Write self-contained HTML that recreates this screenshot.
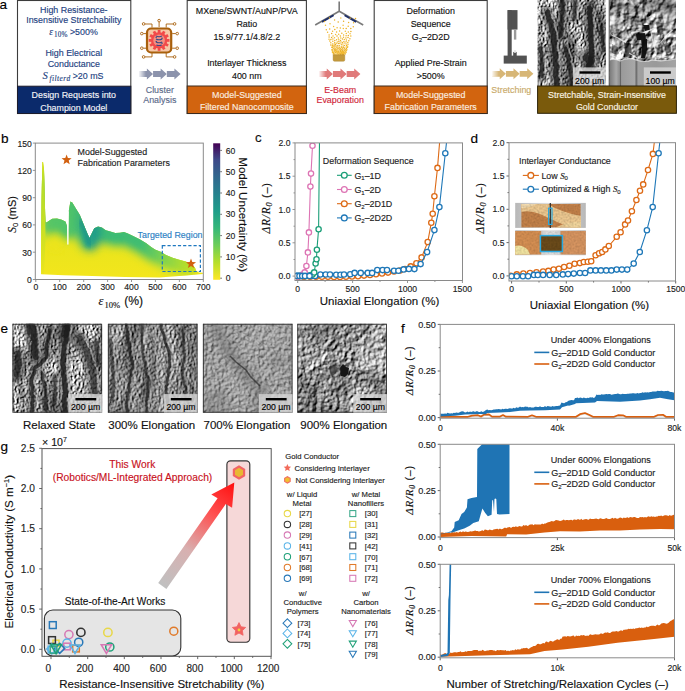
<!DOCTYPE html>
<html><head><meta charset="utf-8"><style>
html,body{margin:0;padding:0;background:#fff;}
body{width:685px;height:691px;overflow:hidden;}
svg{display:block;font-family:"Liberation Sans", sans-serif;}
</style></head><body>
<svg width="685" height="691" viewBox="0 0 685 691">
<defs>
<linearGradient id="vir" x1="0" y1="1" x2="0" y2="0">
 <stop offset="0" stop-color="#fde725"/><stop offset="0.13" stop-color="#b5de2b"/>
 <stop offset="0.25" stop-color="#6ece58"/><stop offset="0.38" stop-color="#35b779"/>
 <stop offset="0.5" stop-color="#1f9e89"/><stop offset="0.63" stop-color="#26828e"/>
 <stop offset="0.75" stop-color="#31688e"/><stop offset="0.88" stop-color="#3e4989"/>
 <stop offset="1" stop-color="#440154"/></linearGradient>
<linearGradient id="bfill" gradientUnits="userSpaceOnUse" x1="0" y1="280" x2="0" y2="200">
 <stop offset="0" stop-color="#f4e41c"/><stop offset="0.22" stop-color="#ece31b"/>
 <stop offset="0.42" stop-color="#c9df22"/><stop offset="0.58" stop-color="#82d24c"/>
 <stop offset="0.75" stop-color="#4cc16b"/><stop offset="1" stop-color="#27a882"/></linearGradient>
<linearGradient id="bteal" gradientUnits="userSpaceOnUse" x1="0" y1="250" x2="0" y2="200">
 <stop offset="0" stop-color="#2a9c86" stop-opacity="0"/><stop offset="0.35" stop-color="#22978a" stop-opacity="0.85"/>
 <stop offset="1" stop-color="#35b37a" stop-opacity="0.6"/></linearGradient>
<linearGradient id="bspike" gradientUnits="userSpaceOnUse" x1="0" y1="275" x2="0" y2="160">
 <stop offset="0" stop-color="#f0e41c"/><stop offset="0.5" stop-color="#c5df24"/><stop offset="1" stop-color="#dfe21e"/></linearGradient>
<linearGradient id="arrG" gradientUnits="userSpaceOnUse" x1="162" y1="585" x2="234" y2="483">
 <stop offset="0" stop-color="#c0c0c0"/><stop offset="0.35" stop-color="#d8b0b0"/><stop offset="0.7" stop-color="#ff5050"/><stop offset="1" stop-color="#ff1010"/></linearGradient>
<linearGradient id="fadeL" x1="0" y1="0" x2="1" y2="0">
 <stop offset="0" stop-color="#fff" stop-opacity="0.9"/><stop offset="1" stop-color="#fff" stop-opacity="0"/></linearGradient>

<filter id="semA1" x="0" y="0" width="1" height="1" filterUnits="objectBoundingBox" color-interpolation-filters="sRGB">
 <feTurbulence type="fractalNoise" baseFrequency="0.09 0.025" numOctaves="3" seed="3" result="n1"/>
 <feTurbulence type="turbulence" baseFrequency="0.35 0.3" numOctaves="2" seed="14" result="n2"/>
 <feComposite in="n1" in2="n2" operator="arithmetic" k1="0" k2="0.6" k3="0.4" k4="0" result="m"/>
 <feColorMatrix in="m" type="matrix" values="0.34 0.33 0.33 0 0  0.34 0.33 0.33 0 0  0.34 0.33 0.33 0 0  0 0 0 0 1"/>
 <feComponentTransfer><feFuncR type="linear" slope="2.6" intercept="-0.62"/><feFuncG type="linear" slope="2.6" intercept="-0.62"/><feFuncB type="linear" slope="2.6" intercept="-0.62"/></feComponentTransfer>
</filter>
<filter id="semA2" x="0" y="0" width="1" height="1" filterUnits="objectBoundingBox" color-interpolation-filters="sRGB">
 <feTurbulence type="fractalNoise" baseFrequency="0.06 0.05" numOctaves="3" seed="5" result="n1"/>
 <feTurbulence type="turbulence" baseFrequency="0.3 0.25" numOctaves="2" seed="16" result="n2"/>
 <feComposite in="n1" in2="n2" operator="arithmetic" k1="0" k2="0.6" k3="0.4" k4="0" result="m"/>
 <feColorMatrix in="m" type="matrix" values="0.34 0.33 0.33 0 0  0.34 0.33 0.33 0 0  0.34 0.33 0.33 0 0  0 0 0 0 1"/>
 <feComponentTransfer><feFuncR type="linear" slope="2.4" intercept="-0.55"/><feFuncG type="linear" slope="2.4" intercept="-0.55"/><feFuncB type="linear" slope="2.4" intercept="-0.55"/></feComponentTransfer>
</filter>
<filter id="semE1" x="0" y="0" width="1" height="1" filterUnits="objectBoundingBox" color-interpolation-filters="sRGB">
 <feTurbulence type="fractalNoise" baseFrequency="0.1 0.025" numOctaves="3" seed="8" result="n1"/>
 <feTurbulence type="turbulence" baseFrequency="0.35 0.3" numOctaves="2" seed="19" result="n2"/>
 <feComposite in="n1" in2="n2" operator="arithmetic" k1="0" k2="0.6" k3="0.4" k4="0" result="m"/>
 <feColorMatrix in="m" type="matrix" values="0.34 0.33 0.33 0 0  0.34 0.33 0.33 0 0  0.34 0.33 0.33 0 0  0 0 0 0 1"/>
 <feComponentTransfer><feFuncR type="linear" slope="2.6" intercept="-0.62"/><feFuncG type="linear" slope="2.6" intercept="-0.62"/><feFuncB type="linear" slope="2.6" intercept="-0.62"/></feComponentTransfer>
</filter>
<filter id="semE2" x="0" y="0" width="1" height="1" filterUnits="objectBoundingBox" color-interpolation-filters="sRGB">
 <feTurbulence type="fractalNoise" baseFrequency="0.09 0.022" numOctaves="3" seed="12" result="n1"/>
 <feTurbulence type="turbulence" baseFrequency="0.35 0.3" numOctaves="2" seed="23" result="n2"/>
 <feComposite in="n1" in2="n2" operator="arithmetic" k1="0" k2="0.6" k3="0.4" k4="0" result="m"/>
 <feColorMatrix in="m" type="matrix" values="0.34 0.33 0.33 0 0  0.34 0.33 0.33 0 0  0.34 0.33 0.33 0 0  0 0 0 0 1"/>
 <feComponentTransfer><feFuncR type="linear" slope="2.3" intercept="-0.5"/><feFuncG type="linear" slope="2.3" intercept="-0.5"/><feFuncB type="linear" slope="2.3" intercept="-0.5"/></feComponentTransfer>
</filter>
<filter id="semE3" x="0" y="0" width="1" height="1" filterUnits="objectBoundingBox" color-interpolation-filters="sRGB">
 <feTurbulence type="fractalNoise" baseFrequency="0.05 0.04" numOctaves="3" seed="21" result="n1"/>
 <feTurbulence type="turbulence" baseFrequency="0.4 0.35" numOctaves="2" seed="32" result="n2"/>
 <feComposite in="n1" in2="n2" operator="arithmetic" k1="0" k2="0.6" k3="0.4" k4="0" result="m"/>
 <feColorMatrix in="m" type="matrix" values="0.34 0.33 0.33 0 0  0.34 0.33 0.33 0 0  0.34 0.33 0.33 0 0  0 0 0 0 1"/>
 <feComponentTransfer><feFuncR type="linear" slope="1.5" intercept="-0.08"/><feFuncG type="linear" slope="1.5" intercept="-0.08"/><feFuncB type="linear" slope="1.5" intercept="-0.08"/></feComponentTransfer>
</filter>
<filter id="semE4" x="0" y="0" width="1" height="1" filterUnits="objectBoundingBox" color-interpolation-filters="sRGB">
 <feTurbulence type="fractalNoise" baseFrequency="0.06 0.05" numOctaves="3" seed="33" result="n1"/>
 <feTurbulence type="turbulence" baseFrequency="0.35 0.3" numOctaves="2" seed="44" result="n2"/>
 <feComposite in="n1" in2="n2" operator="arithmetic" k1="0" k2="0.6" k3="0.4" k4="0" result="m"/>
 <feColorMatrix in="m" type="matrix" values="0.34 0.33 0.33 0 0  0.34 0.33 0.33 0 0  0.34 0.33 0.33 0 0  0 0 0 0 1"/>
 <feComponentTransfer><feFuncR type="linear" slope="2.2" intercept="-0.42"/><feFuncG type="linear" slope="2.2" intercept="-0.42"/><feFuncB type="linear" slope="2.2" intercept="-0.42"/></feComponentTransfer>
</filter>
</defs>
<text x="-0.60" y="9.20" font-size="13.6" fill="#000" text-anchor="start"  stroke="#000" stroke-width="0.14">a</text>
<rect x="17.5" y="0.5" width="113.3" height="113" fill="#fff" stroke="#3c3c3c" stroke-width="1.1"/>
<rect x="17.5" y="86.2" width="113.3" height="27.3" fill="#0b2a6b" stroke="#1c1c2c" stroke-width="1"/>
<text x="73.80" y="12.60" font-size="8.9" fill="#233f7f" text-anchor="middle"  stroke="#233f7f" stroke-width="0.14">High Resistance-</text>
<text x="73.80" y="23.40" font-size="8.9" fill="#233f7f" text-anchor="middle"  stroke="#233f7f" stroke-width="0.14">Insensitive Stretchability</text>
<text y="34.8" font-size="8.9" fill="#233f7f" stroke="#233f7f" stroke-width="0.14"><tspan x="49.2" font-family="Liberation Serif" font-style="italic" font-size="9.6">ε</tspan><tspan x="54.0" font-family="Liberation Serif" font-size="7.2" dy="1.9" letter-spacing="0.2">10%</tspan><tspan x="69.9" dy="-1.9">&gt;500%</tspan></text>
<text x="73.80" y="56.40" font-size="8.9" fill="#233f7f" text-anchor="middle"  stroke="#233f7f" stroke-width="0.14">High Electrical</text>
<text x="73.80" y="67.40" font-size="8.9" fill="#233f7f" text-anchor="middle"  stroke="#233f7f" stroke-width="0.14">Conductance</text>
<text y="79.1" font-size="8.9" fill="#233f7f" stroke="#233f7f" stroke-width="0.14"><tspan x="42.6" font-family="Liberation Serif" font-style="italic" font-size="10.6">S</tspan><tspan x="49.6" font-family="Liberation Serif" font-style="italic" font-size="7.4" dy="2.1" letter-spacing="0.45">filterd</tspan><tspan x="72.7" dy="-2.1">&gt;20 mS</tspan></text>
<text x="73.80" y="97.50" font-size="8.9" fill="#f4f4f8" text-anchor="middle"  stroke="#f4f4f8" stroke-width="0.14">Design Requests into</text>
<text x="73.80" y="110.60" font-size="8.9" fill="#f4f4f8" text-anchor="middle"  stroke="#f4f4f8" stroke-width="0.14">Champion Model</text>
<g stroke="#a8600c" stroke-width="0.9" fill="none"><path d="M159.1 27 V22 M152 27.5 V24 H145 M166.2 27.5 V24 H173 M146 33.6 H143.2 M146 48.2 H143.2 M172.2 33.6 H175.8 M172.2 48.2 H175.8 M152 53 V56.9 H145 M166.2 53 V56.9 H173"/><circle cx="159.1" cy="20.6" r="1.3" fill="#fff"/><circle cx="143.6" cy="23.9" r="1.3" fill="#fff"/><circle cx="174.6" cy="23.9" r="1.3" fill="#fff"/><circle cx="141.8" cy="33.6" r="1.3" fill="#fff"/><circle cx="141.8" cy="48.2" r="1.3" fill="#fff"/><circle cx="177.2" cy="33.6" r="1.3" fill="#fff"/><circle cx="177.2" cy="48.2" r="1.3" fill="#fff"/><circle cx="143.6" cy="56.9" r="1.3" fill="#fff"/><circle cx="174.6" cy="56.9" r="1.3" fill="#fff"/></g>
<rect x="147" y="28.5" width="24.2" height="24" rx="4" fill="#f7c7a6" stroke="#a8600c" stroke-width="2.2"/>
<rect x="-1.4" y="-10.4" width="2.8" height="3" transform="translate(159.1 40.4) rotate(0)" fill="#f24a4a"/><rect x="-1.4" y="-10.4" width="2.8" height="3" transform="translate(159.1 40.4) rotate(30)" fill="#f24a4a"/><rect x="-1.4" y="-10.4" width="2.8" height="3" transform="translate(159.1 40.4) rotate(60)" fill="#f24a4a"/><rect x="-1.4" y="-10.4" width="2.8" height="3" transform="translate(159.1 40.4) rotate(90)" fill="#f24a4a"/><rect x="-1.4" y="-10.4" width="2.8" height="3" transform="translate(159.1 40.4) rotate(120)" fill="#f24a4a"/><rect x="-1.4" y="-10.4" width="2.8" height="3" transform="translate(159.1 40.4) rotate(150)" fill="#f24a4a"/><rect x="-1.4" y="-10.4" width="2.8" height="3" transform="translate(159.1 40.4) rotate(180)" fill="#f24a4a"/><rect x="-1.4" y="-10.4" width="2.8" height="3" transform="translate(159.1 40.4) rotate(210)" fill="#f24a4a"/><rect x="-1.4" y="-10.4" width="2.8" height="3" transform="translate(159.1 40.4) rotate(240)" fill="#f24a4a"/><rect x="-1.4" y="-10.4" width="2.8" height="3" transform="translate(159.1 40.4) rotate(270)" fill="#f24a4a"/><rect x="-1.4" y="-10.4" width="2.8" height="3" transform="translate(159.1 40.4) rotate(300)" fill="#f24a4a"/><rect x="-1.4" y="-10.4" width="2.8" height="3" transform="translate(159.1 40.4) rotate(330)" fill="#f24a4a"/>
<circle cx="159.1" cy="40.4" r="8.2" fill="#f24a4a"/><circle cx="159.1" cy="40.4" r="5.8" fill="#f49080"/>
<g stroke="#3d4a86" stroke-width="1.1" fill="none"><path d="M156.2 36 Q159 37.5 162 36 M156 39 Q159 40.6 162.2 39 M156 42 Q159 43.6 162.2 42 M156.3 45 Q159 46 161.8 45"/></g>
<g fill="#3d4a86"><circle cx="156.2" cy="37.3" r="0.8"/><circle cx="162" cy="38.3" r="0.8"/><circle cx="156.3" cy="41.5" r="0.8"/><circle cx="162" cy="43.3" r="0.8"/></g>
<path d="M139.30 71.10 H146.87 V68.50 L153.07 74.00 L146.87 79.50 V76.90 H139.30 Z" fill="#8c93ac"/><path d="M153.07 71.10 H160.64 V68.50 L166.83 74.00 L160.64 79.50 V76.90 H153.07 Z" fill="#8c93ac"/><path d="M166.83 71.10 H174.41 V68.50 L180.60 74.00 L174.41 79.50 V76.90 H166.83 Z" fill="#8c93ac"/>
<rect x="139.10" y="71.00" width="6.88" height="6" fill="url(#fadeL)"/>
<text x="159.80" y="93.30" font-size="8.9" fill="#5b6a8a" text-anchor="middle"  stroke="#5b6a8a" stroke-width="0.14">Cluster</text>
<text x="159.80" y="103.00" font-size="8.9" fill="#5b6a8a" text-anchor="middle"  stroke="#5b6a8a" stroke-width="0.14">Analysis</text>
<rect x="187.2" y="0.5" width="119.2" height="113" fill="#fff" stroke="#3c3c3c" stroke-width="1.1"/>
<rect x="187.2" y="86" width="119.2" height="27.5" fill="#d2640f" stroke="#3c2a1c" stroke-width="1"/>
<text x="246.80" y="14.20" font-size="8.9" fill="#111" text-anchor="middle"  stroke="#111" stroke-width="0.14">MXene/SWNT/AuNP/PVA</text>
<text x="246.80" y="27.00" font-size="8.9" fill="#111" text-anchor="middle"  stroke="#111" stroke-width="0.14">Ratio</text>
<text x="246.80" y="39.80" font-size="8.9" fill="#111" text-anchor="middle"  stroke="#111" stroke-width="0.14">15.9/77.1/4.8/2.2</text>
<text x="246.80" y="66.00" font-size="8.9" fill="#111" text-anchor="middle"  stroke="#111" stroke-width="0.14">Interlayer Thickness</text>
<text x="246.80" y="78.50" font-size="8.9" fill="#111" text-anchor="middle"  stroke="#111" stroke-width="0.14">400 nm</text>
<text x="246.80" y="97.60" font-size="8.9" fill="#fbeee0" text-anchor="middle"  stroke="#fbeee0" stroke-width="0.14">Model-Suggested</text>
<text x="246.80" y="110.40" font-size="8.9" fill="#fbeee0" text-anchor="middle"  stroke="#fbeee0" stroke-width="0.14">Filtered Nanocomposite</text>
<g stroke="#7a7a7a" stroke-width="1.6" fill="none" stroke-linecap="butt"><path d="M339.2 1.5 V11.4 M315.2 25 L339.2 11.2 L363.2 25"/></g>
<g stroke="#1f2f66" stroke-width="1.9" fill="none"><path d="M322 21.9 L333.6 15.2 M344.6 15.2 L356.2 21.9"/></g>
<circle cx="340.5" cy="40.5" r="0.74" fill="#e8aa20"/><circle cx="338.8" cy="52.8" r="0.74" fill="#eeb22a"/><circle cx="341.0" cy="42.1" r="0.74" fill="#eeb22a"/><circle cx="339.6" cy="30.9" r="0.74" fill="#f0b424"/><circle cx="344.5" cy="45.5" r="0.74" fill="#eeb22a"/><circle cx="333.6" cy="26.5" r="0.74" fill="#f2bc30"/><circle cx="348.2" cy="26.3" r="0.74" fill="#f0b424"/><circle cx="331.7" cy="47.2" r="0.74" fill="#f2bc30"/><circle cx="345.2" cy="54.1" r="0.74" fill="#f2bc30"/><circle cx="341.3" cy="46.2" r="0.74" fill="#f2bc30"/><circle cx="326.3" cy="29.7" r="0.74" fill="#eeb22a"/><circle cx="330.8" cy="42.7" r="0.74" fill="#eeb22a"/><circle cx="332.6" cy="31.2" r="0.74" fill="#eeb22a"/><circle cx="338.2" cy="22.0" r="0.74" fill="#e8aa20"/><circle cx="346.4" cy="40.1" r="0.74" fill="#f0b424"/><circle cx="334.8" cy="40.6" r="0.74" fill="#e8aa20"/><circle cx="342.3" cy="50.8" r="0.74" fill="#e8aa20"/><circle cx="333.0" cy="36.0" r="0.74" fill="#f2bc30"/><circle cx="329.1" cy="35.1" r="0.74" fill="#eeb22a"/><circle cx="337.7" cy="49.0" r="0.74" fill="#e8aa20"/><circle cx="337.7" cy="51.0" r="0.74" fill="#f0b424"/><circle cx="343.8" cy="53.6" r="0.74" fill="#f0b424"/><circle cx="329.5" cy="17.9" r="0.74" fill="#f0b424"/><circle cx="338.0" cy="54.1" r="0.74" fill="#eeb22a"/><circle cx="343.1" cy="25.2" r="0.74" fill="#f2bc30"/><circle cx="335.8" cy="49.3" r="0.74" fill="#e8aa20"/><circle cx="342.6" cy="53.7" r="0.74" fill="#f2bc30"/><circle cx="334.4" cy="49.8" r="0.74" fill="#e8aa20"/><circle cx="338.3" cy="43.6" r="0.74" fill="#e8aa20"/><circle cx="345.3" cy="31.2" r="0.74" fill="#f2bc30"/><circle cx="343.3" cy="28.4" r="0.74" fill="#f2bc30"/><circle cx="337.1" cy="27.7" r="0.74" fill="#f0b424"/><circle cx="348.3" cy="35.6" r="0.74" fill="#e8aa20"/><circle cx="336.6" cy="32.0" r="0.74" fill="#f0b424"/><circle cx="341.3" cy="51.2" r="0.74" fill="#f2bc30"/><circle cx="353.3" cy="26.8" r="0.74" fill="#eeb22a"/><circle cx="341.8" cy="33.3" r="0.74" fill="#f0b424"/><circle cx="338.3" cy="37.9" r="0.74" fill="#f2bc30"/><circle cx="346.1" cy="44.0" r="0.74" fill="#f0b424"/><circle cx="343.6" cy="52.4" r="0.74" fill="#f2bc30"/><circle cx="331.7" cy="33.6" r="0.74" fill="#e8aa20"/><circle cx="346.3" cy="48.4" r="0.74" fill="#e8aa20"/><circle cx="350.9" cy="31.4" r="0.74" fill="#e8aa20"/><circle cx="330.9" cy="39.5" r="0.74" fill="#f0b424"/><circle cx="353.6" cy="22.8" r="0.74" fill="#f0b424"/><circle cx="335.5" cy="44.6" r="0.74" fill="#e8aa20"/><circle cx="335.3" cy="52.6" r="0.74" fill="#f0b424"/><circle cx="332.5" cy="44.0" r="0.74" fill="#f2bc30"/><circle cx="348.0" cy="37.6" r="0.74" fill="#e8aa20"/><circle cx="341.3" cy="54.1" r="0.74" fill="#e8aa20"/><circle cx="343.6" cy="21.2" r="0.74" fill="#e8aa20"/><circle cx="343.9" cy="41.4" r="0.74" fill="#eeb22a"/><circle cx="350.8" cy="36.1" r="0.74" fill="#f0b424"/><circle cx="342.6" cy="48.3" r="0.74" fill="#eeb22a"/><circle cx="345.6" cy="49.7" r="0.74" fill="#f0b424"/><circle cx="343.5" cy="37.3" r="0.74" fill="#f0b424"/><circle cx="340.3" cy="51.4" r="0.74" fill="#eeb22a"/><circle cx="337.2" cy="45.4" r="0.74" fill="#e8aa20"/><circle cx="341.3" cy="44.3" r="0.74" fill="#f0b424"/><circle cx="340.6" cy="48.3" r="0.74" fill="#f0b424"/><circle cx="339.3" cy="47.3" r="0.74" fill="#f0b424"/><circle cx="341.5" cy="52.4" r="0.74" fill="#f2bc30"/><circle cx="344.4" cy="50.8" r="0.74" fill="#f0b424"/><circle cx="339.2" cy="45.4" r="0.74" fill="#e8aa20"/><circle cx="325.5" cy="25.3" r="0.74" fill="#f2bc30"/><circle cx="332.8" cy="51.6" r="0.74" fill="#f2bc30"/><circle cx="346.1" cy="35.8" r="0.74" fill="#eeb22a"/><circle cx="335.4" cy="50.6" r="0.74" fill="#f2bc30"/><circle cx="334.3" cy="47.0" r="0.74" fill="#f2bc30"/><circle cx="332.8" cy="41.2" r="0.74" fill="#f0b424"/><circle cx="335.6" cy="34.5" r="0.74" fill="#f2bc30"/><circle cx="333.7" cy="52.4" r="0.74" fill="#f2bc30"/><circle cx="346.6" cy="45.4" r="0.74" fill="#f0b424"/><circle cx="340.8" cy="38.1" r="0.74" fill="#f2bc30"/><circle cx="344.5" cy="47.9" r="0.74" fill="#eeb22a"/><circle cx="343.1" cy="45.9" r="0.74" fill="#eeb22a"/><circle cx="344.9" cy="43.0" r="0.74" fill="#eeb22a"/><circle cx="332.8" cy="50.1" r="0.74" fill="#f0b424"/><circle cx="329.7" cy="28.9" r="0.74" fill="#e8aa20"/><circle cx="333.9" cy="53.4" r="0.74" fill="#e8aa20"/><circle cx="348.3" cy="31.9" r="0.74" fill="#eeb22a"/><circle cx="339.6" cy="53.8" r="0.74" fill="#f2bc30"/><circle cx="330.8" cy="44.9" r="0.74" fill="#e8aa20"/><circle cx="338.7" cy="34.3" r="0.74" fill="#f2bc30"/><circle cx="332.0" cy="49.4" r="0.74" fill="#f0b424"/><circle cx="336.3" cy="47.0" r="0.74" fill="#eeb22a"/><circle cx="336.8" cy="52.3" r="0.74" fill="#eeb22a"/><circle cx="346.2" cy="46.9" r="0.74" fill="#f0b424"/><circle cx="346.4" cy="50.8" r="0.74" fill="#eeb22a"/><circle cx="344.5" cy="52.2" r="0.74" fill="#f2bc30"/><circle cx="334.6" cy="19.9" r="0.74" fill="#eeb22a"/><circle cx="333.3" cy="54.1" r="0.74" fill="#e8aa20"/><circle cx="330.0" cy="23.7" r="0.74" fill="#f2bc30"/><circle cx="334.5" cy="37.7" r="0.74" fill="#f2bc30"/><circle cx="338.8" cy="39.8" r="0.74" fill="#f2bc30"/><circle cx="336.0" cy="53.9" r="0.74" fill="#f2bc30"/><circle cx="347.8" cy="42.6" r="0.74" fill="#f0b424"/><circle cx="339.8" cy="49.3" r="0.74" fill="#f0b424"/><circle cx="335.1" cy="48.2" r="0.74" fill="#f0b424"/><circle cx="341.2" cy="49.5" r="0.74" fill="#e8aa20"/><circle cx="332.3" cy="45.4" r="0.74" fill="#f0b424"/><circle cx="347.7" cy="46.2" r="0.74" fill="#f2bc30"/><circle cx="336.6" cy="39.7" r="0.74" fill="#eeb22a"/><circle cx="337.0" cy="36.1" r="0.74" fill="#e8aa20"/><circle cx="340.4" cy="35.9" r="0.74" fill="#f0b424"/><circle cx="339.0" cy="50.3" r="0.74" fill="#f0b424"/><circle cx="345.9" cy="37.9" r="0.74" fill="#eeb22a"/><circle cx="350.1" cy="18.2" r="0.74" fill="#eeb22a"/><circle cx="332.7" cy="47.8" r="0.74" fill="#e8aa20"/><circle cx="336.5" cy="51.2" r="0.74" fill="#eeb22a"/><circle cx="339.8" cy="43.2" r="0.74" fill="#eeb22a"/><circle cx="348.8" cy="40.8" r="0.74" fill="#e8aa20"/><circle cx="344.3" cy="49.1" r="0.74" fill="#e8aa20"/><circle cx="329.0" cy="39.2" r="0.74" fill="#f2bc30"/><circle cx="340.0" cy="52.3" r="0.74" fill="#f0b424"/><circle cx="334.0" cy="45.5" r="0.74" fill="#eeb22a"/><circle cx="342.9" cy="44.1" r="0.74" fill="#f0b424"/><circle cx="346.0" cy="52.4" r="0.74" fill="#eeb22a"/><circle cx="334.7" cy="42.5" r="0.74" fill="#f2bc30"/><circle cx="337.3" cy="42.0" r="0.74" fill="#f2bc30"/><circle cx="340.3" cy="28.1" r="0.74" fill="#f0b424"/><circle cx="334.8" cy="54.2" r="0.74" fill="#f0b424"/><circle cx="331.6" cy="37.6" r="0.74" fill="#e8aa20"/><circle cx="337.4" cy="53.1" r="0.74" fill="#f2bc30"/><circle cx="327.6" cy="32.2" r="0.74" fill="#f0b424"/><circle cx="340.8" cy="18.1" r="0.74" fill="#f2bc30"/><circle cx="337.9" cy="47.1" r="0.74" fill="#e8aa20"/><circle cx="342.9" cy="49.7" r="0.74" fill="#e8aa20"/><circle cx="340.7" cy="53.2" r="0.74" fill="#f0b424"/><circle cx="347.5" cy="47.4" r="0.74" fill="#f2bc30"/><circle cx="334.3" cy="51.1" r="0.74" fill="#e8aa20"/><circle cx="343.6" cy="35.0" r="0.74" fill="#eeb22a"/><circle cx="329.8" cy="41.1" r="0.74" fill="#f0b424"/><circle cx="337.1" cy="54.1" r="0.74" fill="#f0b424"/><circle cx="343.4" cy="51.2" r="0.74" fill="#eeb22a"/><circle cx="345.5" cy="51.3" r="0.74" fill="#f2bc30"/><circle cx="324.5" cy="21.5" r="0.74" fill="#eeb22a"/><circle cx="342.5" cy="51.8" r="0.74" fill="#f0b424"/><circle cx="329.1" cy="37.1" r="0.74" fill="#e8aa20"/><circle cx="338.9" cy="41.6" r="0.74" fill="#e8aa20"/><circle cx="342.5" cy="38.9" r="0.74" fill="#e8aa20"/><circle cx="338.7" cy="51.8" r="0.74" fill="#e8aa20"/><circle cx="349.9" cy="38.8" r="0.74" fill="#eeb22a"/><circle cx="336.2" cy="43.2" r="0.74" fill="#f0b424"/><circle cx="348.6" cy="22.4" r="0.74" fill="#eeb22a"/><circle cx="343.5" cy="54.5" r="0.74" fill="#e8aa20"/><circle cx="355.5" cy="18.6" r="0.74" fill="#e8aa20"/><circle cx="345.0" cy="53.2" r="0.74" fill="#eeb22a"/><circle cx="338.8" cy="54.3" r="0.74" fill="#f0b424"/><circle cx="348.0" cy="44.3" r="0.74" fill="#eeb22a"/><circle cx="346.1" cy="41.8" r="0.74" fill="#eeb22a"/><circle cx="333.8" cy="48.4" r="0.74" fill="#f0b424"/><circle cx="343.3" cy="47.2" r="0.74" fill="#e8aa20"/><circle cx="337.0" cy="48.1" r="0.74" fill="#f0b424"/><circle cx="332.5" cy="52.5" r="0.74" fill="#f2bc30"/><circle cx="340.4" cy="54.5" r="0.74" fill="#e8aa20"/><circle cx="350.8" cy="28.5" r="0.74" fill="#e8aa20"/><circle cx="342.6" cy="42.5" r="0.74" fill="#eeb22a"/><circle cx="346.9" cy="49.8" r="0.74" fill="#f2bc30"/><circle cx="350.1" cy="33.8" r="0.74" fill="#f2bc30"/><circle cx="342.3" cy="54.5" r="0.74" fill="#e8aa20"/><circle cx="340.6" cy="50.4" r="0.74" fill="#f0b424"/><circle cx="341.9" cy="53.2" r="0.74" fill="#eeb22a"/><circle cx="344.4" cy="39.6" r="0.74" fill="#f2bc30"/><circle cx="346.2" cy="28.4" r="0.74" fill="#e8aa20"/><circle cx="336.5" cy="50.1" r="0.74" fill="#f0b424"/><circle cx="332.9" cy="39.1" r="0.74" fill="#f0b424"/><circle cx="342.8" cy="52.8" r="0.74" fill="#f0b424"/><circle cx="335.1" cy="51.7" r="0.74" fill="#f0b424"/><circle cx="333.0" cy="46.4" r="0.74" fill="#f0b424"/><circle cx="334.8" cy="29.4" r="0.74" fill="#e8aa20"/><circle cx="332.1" cy="50.8" r="0.74" fill="#f2bc30"/><circle cx="338.9" cy="48.5" r="0.74" fill="#eeb22a"/><circle cx="335.2" cy="46.0" r="0.74" fill="#f0b424"/><circle cx="334.2" cy="43.9" r="0.74" fill="#eeb22a"/><circle cx="346.3" cy="33.4" r="0.74" fill="#f2bc30"/><circle cx="337.7" cy="52.1" r="0.74" fill="#f2bc30"/><circle cx="341.6" cy="47.4" r="0.74" fill="#f2bc30"/>
<path d="M333.1 54.8 H344.8 V59.8 Q344.8 61.3 343.3 61.3 H334.6 Q333.1 61.3 333.1 59.8 Z" fill="#c49a3c" stroke="#a88430" stroke-width="0.4"/>
<path d="M319.20 71.10 H326.75 V68.50 L332.93 74.00 L326.75 79.50 V76.90 H319.20 Z" fill="#e07a7a"/><path d="M332.93 71.10 H340.49 V68.50 L346.67 74.00 L340.49 79.50 V76.90 H332.93 Z" fill="#e07a7a"/><path d="M346.67 71.10 H354.22 V68.50 L360.40 74.00 L354.22 79.50 V76.90 H346.67 Z" fill="#e07a7a"/>
<rect x="319.00" y="71.00" width="6.87" height="6" fill="url(#fadeL)"/>
<text x="340.20" y="93.30" font-size="8.9" fill="#d0253a" text-anchor="middle"  stroke="#d0253a" stroke-width="0.14">E-Beam</text>
<text x="340.20" y="103.00" font-size="8.9" fill="#d0253a" text-anchor="middle"  stroke="#d0253a" stroke-width="0.14">Evaporation</text>
<rect x="374.2" y="0.5" width="113" height="113" fill="#fff" stroke="#3c3c3c" stroke-width="1.1"/>
<rect x="374.2" y="86" width="113" height="27.5" fill="#d2640f" stroke="#3c2a1c" stroke-width="1"/>
<text x="430.70" y="14.20" font-size="8.9" fill="#111" text-anchor="middle"  stroke="#111" stroke-width="0.14">Deformation</text>
<text x="430.70" y="27.00" font-size="8.9" fill="#111" text-anchor="middle"  stroke="#111" stroke-width="0.14">Sequence</text>
<text x="430.7" y="39.8" font-size="8.9" fill="#111" text-anchor="middle" stroke="#111" stroke-width="0.14">G<tspan font-size="6" dy="1.8">2</tspan><tspan dy="-1.8">–2D2D</tspan></text>
<text x="430.70" y="66.00" font-size="8.9" fill="#111" text-anchor="middle"  stroke="#111" stroke-width="0.14">Applied Pre-Strain</text>
<text x="430.70" y="78.50" font-size="8.9" fill="#111" text-anchor="middle"  stroke="#111" stroke-width="0.14">&gt;500%</text>
<text x="430.70" y="97.60" font-size="8.9" fill="#fbeee0" text-anchor="middle"  stroke="#fbeee0" stroke-width="0.14">Model-Suggested</text>
<text x="430.70" y="110.40" font-size="8.9" fill="#fbeee0" text-anchor="middle"  stroke="#fbeee0" stroke-width="0.14">Fabrication Parameters</text>
<g fill="#525252"><rect x="507.6" y="10.1" width="9.9" height="19.5"/><rect x="507.6" y="10.1" width="4.1" height="46"/><rect x="503.7" y="55.6" width="23.1" height="8"/><rect x="513.2" y="52" width="3.5" height="4"/></g>
<rect x="513.9" y="29.6" width="2.4" height="10" fill="#9a9a9a"/><circle cx="515" cy="51.5" r="1.4" fill="#e8e8e8"/>
<path d="M492.20 70.90 H499.75 V68.30 L505.93 73.80 L499.75 79.30 V76.70 H492.20 Z" fill="#d7b676"/><path d="M505.93 70.90 H513.49 V68.30 L519.67 73.80 L513.49 79.30 V76.70 H505.93 Z" fill="#d7b676"/><path d="M519.67 70.90 H527.22 V68.30 L533.40 73.80 L527.22 79.30 V76.70 H519.67 Z" fill="#d7b676"/>
<rect x="492.00" y="70.80" width="6.87" height="6" fill="url(#fadeL)"/>
<text x="511.30" y="92.60" font-size="8.9" fill="#c9aa6a" text-anchor="middle"  stroke="#c9aa6a" stroke-width="0.14">Stretching</text>
<clipPath id="cA1"><rect x="537.6" y="0" width="68.2" height="86"/></clipPath>
<g clip-path="url(#cA1)">
<rect x="537.6" y="0" width="68.2" height="86" filter="url(#tA1)"/>
<g filter="url(#bl18)"><path d="M547.8 12.0 L547.6 14.2 L548.7 16.5 L548.5 18.8 L550.4 21.0 L550.8 23.2 L551.3 25.5 L551.3 28.0 L552.2 30.6 L552.7 33.1 L553.7 35.7 L553.0 38.2 L554.4 40.7 L554.6 43.3 L554.0 45.8 L554.1 48.4 L554.4 50.9 L554.9 53.4 L555.7 56.0 L555.0 58.5 L555.2 61.1 L555.4 63.6 L556.7 66.2 L556.1 68.7 L555.6 71.3 L556.0 73.8 L555.5 76.4 L556.4 78.7 L556.6 81.0 L556.4 83.4 L556.0 85.7 L556.0 88.0" stroke="#282828" stroke-width="12.1" fill="none" opacity="0.5" stroke-linecap="round"/><path d="M561.8 -2.0 L562.1 0.4 L562.1 2.9 L562.9 5.3 L562.3 7.8 L562.9 10.2 L562.3 12.7 L561.6 15.3 L561.7 17.8 L562.0 20.4 L561.0 22.9 L560.5 25.5 L561.4 28.0 L560.7 30.6 L560.6 33.1 L560.5 35.6" stroke="#282828" stroke-width="10.1" fill="none" opacity="0.5" stroke-linecap="round"/><path d="M565.5 48.4 L565.5 50.6 L566.4 52.8 L567.2 55.1 L567.9 57.3 L568.5 59.8 L568.1 62.4 L569.5 64.9 L570.1 67.5 L570.1 70.0 L570.4 72.5 L570.5 75.1 L571.2 77.6 L571.0 80.2 L571.3 82.7 L571.2 85.3 L571.5 88.0" stroke="#282828" stroke-width="8.7" fill="none" opacity="0.5" stroke-linecap="round"/><path d="M589.4 8.0 L590.0 10.5 L588.9 13.0 L590.2 15.5 L589.9 18.0 L590.1 20.5 L590.5 23.0 L590.7 25.5 L590.8 28.0 L590.7 30.6 L590.7 33.1 L590.9 35.7 L590.4 38.2 L590.7 40.7 L591.4 43.3 L591.2 45.8 L591.2 48.4 L591.2 50.9 L590.9 53.5 L591.8 56.0 L590.5 58.5 L591.0 61.1 L589.9 63.7 L587.9 66.2" stroke="#282828" stroke-width="12.1" fill="none" opacity="0.5" stroke-linecap="round"/><path d="M586.2 58.0 L588.3 59.0 L591.4 60.0 L590.5 63.0 L590.0 66.0" stroke="#282828" stroke-width="16.8" fill="none" opacity="0.5" stroke-linecap="round"/><path d="M575.3 2.0 L574.7 4.4 L574.9 6.9 L574.6 9.3 L574.3 11.8 L574.4 14.2 L574.7 16.7 L573.9 19.1" stroke="#282828" stroke-width="8.1" fill="none" opacity="0.5" stroke-linecap="round"/><path d="M540.7 48.0 L540.2 50.3 L541.6 52.7 L541.7 55.0 L541.4 57.3 L541.8 59.7 L541.6 62.0 L542.0 64.4 L541.6 66.8 L541.8 69.2 L541.3 71.6 L541.9 74.0 L542.1 76.4" stroke="#282828" stroke-width="8.7" fill="none" opacity="0.5" stroke-linecap="round"/><path d="M601.3 28.0 L601.6 30.3 L601.7 32.6 L602.3 34.9 L602.7 37.2 L602.6 39.5 L602.5 41.7 L603.3 44.0 L602.3 46.3 L603.1 48.6 L603.2 50.9" stroke="#282828" stroke-width="7.4" fill="none" opacity="0.5" stroke-linecap="round"/></g>
<g filter="url(#bl06)"><path d="M552.1 12.0 L552.0 14.2 L553.0 16.5 L552.8 18.8 L554.7 21.0 L555.1 23.2 L555.6 25.5 L555.7 28.0 L556.5 30.6 L557.0 33.1 L558.0 35.7 L557.4 38.2 L558.8 40.7 L558.9 43.3 L558.3 45.8 L558.5 48.4 L558.7 50.9 L559.3 53.4 L560.0 56.0 L559.3 58.5 L559.6 61.1 L559.7 63.6 L561.0 66.2 L560.4 68.7 L560.0 71.3 L560.3 73.8 L559.8 76.4 L560.7 78.7 L561.0 81.0 L560.7 83.4 L560.3 85.7 L560.3 88.0" stroke="#f0f0f0" stroke-width="1.5" fill="none" opacity="0.35"/><path d="M565.7 -2.0 L566.0 0.4 L566.0 2.9 L566.8 5.3 L566.2 7.8 L566.8 10.2 L566.2 12.7 L565.5 15.3 L565.6 17.8 L565.9 20.4 L564.9 22.9 L564.4 25.5 L565.3 28.0 L564.6 30.6 L564.5 33.1 L564.4 35.6" stroke="#f0f0f0" stroke-width="1.5" fill="none" opacity="0.35"/><path d="M569.1 48.4 L569.1 50.6 L570.0 52.8 L570.8 55.1 L571.5 57.3 L572.1 59.8 L571.7 62.4 L573.1 64.9 L573.7 67.5 L573.7 70.0 L574.0 72.5 L574.1 75.1 L574.9 77.6 L574.6 80.2 L574.9 82.7 L574.8 85.3 L575.1 88.0" stroke="#f0f0f0" stroke-width="1.5" fill="none" opacity="0.35"/><path d="M593.7 8.0 L594.3 10.5 L593.2 13.0 L594.6 15.5 L594.3 18.0 L594.4 20.5 L594.8 23.0 L595.1 25.5 L595.1 28.0 L595.0 30.6 L595.0 33.1 L595.2 35.7 L594.7 38.2 L595.0 40.7 L595.8 43.3 L595.5 45.8 L595.5 48.4 L595.5 50.9 L595.2 53.5 L596.1 56.0 L594.8 58.5 L595.3 61.1 L594.2 63.7 L592.2 66.2" stroke="#f0f0f0" stroke-width="1.5" fill="none" opacity="0.35"/><path d="M591.5 58.0 L593.6 59.0 L596.7 60.0 L595.8 63.0 L595.3 66.0" stroke="#f0f0f0" stroke-width="1.5" fill="none" opacity="0.35"/><path d="M578.8 2.0 L578.1 4.4 L578.4 6.9 L578.1 9.3 L577.8 11.8 L577.9 14.2 L578.1 16.7 L577.4 19.1" stroke="#f0f0f0" stroke-width="1.5" fill="none" opacity="0.35"/><path d="M544.4 48.0 L543.9 50.3 L545.2 52.7 L545.4 55.0 L545.0 57.3 L545.4 59.7 L545.3 62.0 L545.6 64.4 L545.2 66.8 L545.4 69.2 L544.9 71.6 L545.6 74.0 L545.7 76.4" stroke="#f0f0f0" stroke-width="1.5" fill="none" opacity="0.35"/><path d="M604.6 28.0 L605.0 30.3 L605.0 32.6 L605.7 34.9 L606.0 37.2 L605.9 39.5 L605.8 41.7 L606.7 44.0 L605.6 46.3 L606.5 48.6 L606.5 50.9" stroke="#f0f0f0" stroke-width="1.5" fill="none" opacity="0.35"/><path d="M547.8 12.0 L547.6 14.2 L548.7 16.5 L548.5 18.8 L550.4 21.0 L550.8 23.2 L551.3 25.5 L551.3 28.0 L552.2 30.6 L552.7 33.1 L553.7 35.7 L553.0 38.2 L554.4 40.7 L554.6 43.3 L554.0 45.8 L554.1 48.4 L554.4 50.9 L554.9 53.4 L555.7 56.0 L555.0 58.5 L555.2 61.1 L555.4 63.6 L556.7 66.2 L556.1 68.7 L555.6 71.3 L556.0 73.8 L555.5 76.4 L556.4 78.7 L556.6 81.0 L556.4 83.4 L556.0 85.7 L556.0 88.0" stroke="#1e1e1e" stroke-width="5.0" fill="none" opacity="0.85" stroke-linecap="round" stroke-linejoin="round"/><path d="M561.8 -2.0 L562.1 0.4 L562.1 2.9 L562.9 5.3 L562.3 7.8 L562.9 10.2 L562.3 12.7 L561.6 15.3 L561.7 17.8 L562.0 20.4 L561.0 22.9 L560.5 25.5 L561.4 28.0 L560.7 30.6 L560.6 33.1 L560.5 35.6" stroke="#1e1e1e" stroke-width="4.2" fill="none" opacity="0.75" stroke-linecap="round" stroke-linejoin="round"/><path d="M565.5 48.4 L565.5 50.6 L566.4 52.8 L567.2 55.1 L567.9 57.3 L568.5 59.8 L568.1 62.4 L569.5 64.9 L570.1 67.5 L570.1 70.0 L570.4 72.5 L570.5 75.1 L571.2 77.6 L571.0 80.2 L571.3 82.7 L571.2 85.3 L571.5 88.0" stroke="#1e1e1e" stroke-width="3.6" fill="none" opacity="0.7" stroke-linecap="round" stroke-linejoin="round"/><path d="M589.4 8.0 L590.0 10.5 L588.9 13.0 L590.2 15.5 L589.9 18.0 L590.1 20.5 L590.5 23.0 L590.7 25.5 L590.8 28.0 L590.7 30.6 L590.7 33.1 L590.9 35.7 L590.4 38.2 L590.7 40.7 L591.4 43.3 L591.2 45.8 L591.2 48.4 L591.2 50.9 L590.9 53.5 L591.8 56.0 L590.5 58.5 L591.0 61.1 L589.9 63.7 L587.9 66.2" stroke="#1e1e1e" stroke-width="5.0" fill="none" opacity="0.9" stroke-linecap="round" stroke-linejoin="round"/><path d="M586.2 58.0 L588.3 59.0 L591.4 60.0 L590.5 63.0 L590.0 66.0" stroke="#1e1e1e" stroke-width="7.0" fill="none" opacity="0.8" stroke-linecap="round" stroke-linejoin="round"/><path d="M575.3 2.0 L574.7 4.4 L574.9 6.9 L574.6 9.3 L574.3 11.8 L574.4 14.2 L574.7 16.7 L573.9 19.1" stroke="#1e1e1e" stroke-width="3.4" fill="none" opacity="0.6" stroke-linecap="round" stroke-linejoin="round"/><path d="M540.7 48.0 L540.2 50.3 L541.6 52.7 L541.7 55.0 L541.4 57.3 L541.8 59.7 L541.6 62.0 L542.0 64.4 L541.6 66.8 L541.8 69.2 L541.3 71.6 L541.9 74.0 L542.1 76.4" stroke="#1e1e1e" stroke-width="3.6" fill="none" opacity="0.7" stroke-linecap="round" stroke-linejoin="round"/><path d="M601.3 28.0 L601.6 30.3 L601.7 32.6 L602.3 34.9 L602.7 37.2 L602.6 39.5 L602.5 41.7 L603.3 44.0 L602.3 46.3 L603.1 48.6 L603.2 50.9" stroke="#1e1e1e" stroke-width="3.1" fill="none" opacity="0.6" stroke-linecap="round" stroke-linejoin="round"/></g>
</g>
<rect x="573.0" y="67.4" width="32.8" height="18.6" fill="#d4d4d4" opacity="0.82"/>
<rect x="579.5" y="71.3" width="20.8" height="2.4" fill="#000"/>
<text x="589.70" y="83.70" font-size="8.7" fill="#000" text-anchor="middle"  stroke="#000" stroke-width="0.14">200 µm</text>
<clipPath id="cA2"><rect x="609.6" y="0" width="66.4" height="86"/></clipPath>
<g clip-path="url(#cA2)">
<rect x="609.6" y="0" width="66.4" height="86" filter="url(#tA2)"/>
<rect x="609.6" y="0" width="66.4" height="12" fill="#606060" opacity="0.3" filter="url(#bl30)"/>
<g filter="url(#bl06)" fill="#111" opacity="0.95"><path d="M643 25 L649 25 L650 30 L645 31 Z"/><path d="M636 34 L645 33 L646 40 L637 40 Z"/><path d="M641 39 L647 39 L647 50 L645 58 L641 58 L642 48 Z"/><path d="M624 42 L631 44 L632 56 L626 57 Z" opacity="0.7"/><path d="M656 22 L662 23 L663 34 L658 35 Z" opacity="0.5"/><path d="M612 44 L618 47 L617 55 L612 53 Z" opacity="0.5"/><path d="M664 44 L670 42 L671 52 L666 54 Z" opacity="0.55"/></g>
<g filter="url(#bl06)" stroke="#f6f6f6" fill="none" stroke-width="1.2" opacity="0.7" stroke-linejoin="round"><path d="M646.7 31.8 L651 29.5 L655.7 27.9"/><path d="M650.7 29.9 L652 38 L654 45 L655.7 51.7"/><path d="M660.6 42.8 L666 36 L672.6 29.9"/><path d="M611 34.8 L618 38 L625.9 42.8"/><path d="M630.8 32.8 L638 31.5 L646.7 32.8"/><path d="M629 53 L634 56 L637 58"/><path d="M612 56 L620 58 L626 58"/><path d="M656 56 L662 57 L668 56"/></g>
<g filter="url(#bl18)" fill="#e8e8e8" opacity="0.45"><ellipse cx="616" cy="22" rx="6" ry="7"/><ellipse cx="668" cy="18" rx="6" ry="9"/><ellipse cx="654" cy="40" rx="3" ry="8"/><ellipse cx="616" cy="44" rx="4" ry="5"/></g>
<linearGradient id="a2b" x1="609.6" y1="0" x2="676" y2="0" gradientUnits="userSpaceOnUse"><stop offset="0" stop-color="#7a7a7a"/><stop offset="0.1" stop-color="#a8a8a8"/><stop offset="0.15" stop-color="#8c8c8c"/><stop offset="0.16" stop-color="#5a5a5a"/><stop offset="0.18" stop-color="#9a9a9a"/><stop offset="0.38" stop-color="#a8a8a8"/><stop offset="0.4" stop-color="#666"/><stop offset="0.43" stop-color="#a0a0a0"/><stop offset="0.7" stop-color="#999"/><stop offset="1" stop-color="#a4a4a4"/></linearGradient>
<path d="M609.6 60 Q614 58 620 61 Q628 57 636 60 Q646 63 652 60 Q662 62 676 59 V86 H609.6 Z" fill="url(#a2b)"/>
<path d="M609.6 60 Q614 58 620 61 Q628 57 636 60 Q646 63 652 60 Q662 62 676 59" stroke="#eee" stroke-width="1.2" fill="none" opacity="0.7" filter="url(#bl06)"/>
</g>
<path d="M609.2 0 V86" stroke="#222" stroke-width="0.8"/>
<rect x="643.8" y="67.4" width="32.2" height="18.6" fill="#d4d4d4" opacity="0.82"/>
<rect x="650.0" y="71.3" width="20.8" height="2.4" fill="#000"/>
<text x="660.20" y="83.70" font-size="8.7" fill="#000" text-anchor="middle"  stroke="#000" stroke-width="0.14">100 µm</text>
<rect x="537.6" y="86" width="138.8" height="27.3" fill="#7a5a0c" stroke="#2a2006" stroke-width="1"/>
<text x="607.00" y="97.60" font-size="8.9" fill="#fbf4e4" text-anchor="middle"  stroke="#fbf4e4" stroke-width="0.14">Stretchable, Strain-Insensitive</text>
<text x="607.00" y="110.40" font-size="8.9" fill="#fbf4e4" text-anchor="middle"  stroke="#fbf4e4" stroke-width="0.14">Gold Conductor</text>
<text x="1.00" y="142.60" font-size="13.6" fill="#000" text-anchor="start"  stroke="#000" stroke-width="0.14">b</text>
<clipPath id="bclip"><path d="M41.1 274.2 L41.1 250.0 L41.6 200.0 L42.3 162.4 L43.0 161.8 L44.0 169.1 L45.2 215.0 L45.5 221.7 L46.5 222.6 L52.2 218.8 L57.0 218.4 L61.8 219.7 L65.6 221.7 L67.1 226.4 L67.5 244.6 L68.3 244.6 L68.8 211.2 L70.4 201.6 L72.3 202.6 L75.1 207.3 L79.9 215.0 L83.7 224.5 L87.6 234.1 L89.5 237.9 L91.4 234.1 L94.2 228.3 L98.1 226.4 L101.9 227.4 L105.7 230.3 L109.5 231.2 L115.3 233.1 L120.0 232.7 L123.9 232.1 L127.9 233.4 L133.1 236.0 L139.7 239.3 L146.3 243.2 L151.5 247.2 L155.5 249.8 L160.7 251.8 L166.0 255.1 L172.6 257.7 L179.1 259.7 L185.7 261.6 L191.6 264.3 L194.9 267.6 L196.2 270.8 L198.8 272.5 L202.8 272.8 L202.8 274.1 L185.7 275.4 L159.4 277.4 L125.0 277.1 L92.3 276.1 L63.7 275.2 L41.1 274.2 Z"/></clipPath>
<linearGradient id="byel" gradientUnits="userSpaceOnUse" x1="0" y1="278" x2="0" y2="220"><stop offset="0" stop-color="#f3e61c"/><stop offset="1" stop-color="#e2e31d"/></linearGradient>
<linearGradient id="bedge" gradientUnits="userSpaceOnUse" x1="40" y1="0" x2="203" y2="0"><stop offset="0" stop-color="#c0df25"/><stop offset="0.04" stop-color="#58c665"/><stop offset="0.2" stop-color="#4ec36b"/><stop offset="0.3" stop-color="#2aa686"/><stop offset="0.34" stop-color="#1f9a8a"/><stop offset="0.4" stop-color="#3dbb74"/><stop offset="0.62" stop-color="#40bd72"/><stop offset="0.75" stop-color="#7cd250"/><stop offset="0.88" stop-color="#b0dd2f"/><stop offset="1" stop-color="#c8e020"/></linearGradient>
<filter id="bbl" x="-10%" y="-30%" width="120%" height="160%"><feGaussianBlur stdDeviation="4"/></filter>
<filter id="bbl2" x="-10%" y="-30%" width="120%" height="160%"><feGaussianBlur stdDeviation="2.2"/></filter>
<path d="M41.1 274.2 L41.1 250.0 L41.6 200.0 L42.3 162.4 L43.0 161.8 L44.0 169.1 L45.2 215.0 L45.5 221.7 L46.5 222.6 L52.2 218.8 L57.0 218.4 L61.8 219.7 L65.6 221.7 L67.1 226.4 L67.5 244.6 L68.3 244.6 L68.8 211.2 L70.4 201.6 L72.3 202.6 L75.1 207.3 L79.9 215.0 L83.7 224.5 L87.6 234.1 L89.5 237.9 L91.4 234.1 L94.2 228.3 L98.1 226.4 L101.9 227.4 L105.7 230.3 L109.5 231.2 L115.3 233.1 L120.0 232.7 L123.9 232.1 L127.9 233.4 L133.1 236.0 L139.7 239.3 L146.3 243.2 L151.5 247.2 L155.5 249.8 L160.7 251.8 L166.0 255.1 L172.6 257.7 L179.1 259.7 L185.7 261.6 L191.6 264.3 L194.9 267.6 L196.2 270.8 L198.8 272.5 L202.8 272.8 L202.8 274.1 L185.7 275.4 L159.4 277.4 L125.0 277.1 L92.3 276.1 L63.7 275.2 L41.1 274.2 Z" fill="url(#byel)"/>
<g clip-path="url(#bclip)">
<path d="M44.0 172.1 L45.2 218.0 L45.5 224.7 L46.5 225.6 L52.2 221.8 L57.0 221.4 L61.8 222.7 L65.6 224.7 L67.1 229.4 L68.8 214.2 L70.4 204.6 L72.3 205.6 L75.1 210.3 L79.9 218.0 L83.7 227.5 L87.6 237.1 L89.5 240.9 L91.4 237.1 L94.2 231.3 L98.1 229.4 L101.9 230.4 L105.7 233.3 L109.5 234.2 L115.3 236.1 L120.0 235.7 L123.9 235.1 L127.9 236.4 L133.1 239.0 L139.7 242.3 L146.3 246.2 L151.5 250.2 L155.5 252.8 L160.7 254.8 L166.0 258.1 L172.6 260.7 L179.1 262.7 L185.7 264.6 L191.6 267.3 L194.9 270.6" stroke="url(#bedge)" stroke-width="20" fill="none" filter="url(#bbl)" stroke-linejoin="round"/>
<path d="M44.0 172.1 L45.2 218.0 L45.5 224.7 L46.5 225.6 L52.2 221.8 L57.0 221.4 L61.8 222.7 L65.6 224.7 L67.1 229.4 L68.8 214.2 L70.4 204.6 L72.3 205.6 L75.1 210.3 L79.9 218.0 L83.7 227.5 L87.6 237.1 L89.5 240.9 L91.4 237.1 L94.2 231.3 L98.1 229.4 L101.9 230.4 L105.7 233.3 L109.5 234.2 L115.3 236.1 L120.0 235.7 L123.9 235.1 L127.9 236.4 L133.1 239.0 L139.7 242.3 L146.3 246.2 L151.5 250.2 L155.5 252.8 L160.7 254.8 L166.0 258.1 L172.6 260.7 L179.1 262.7 L185.7 264.6 L191.6 267.3 L194.9 270.6" stroke="url(#bedge)" stroke-width="8" fill="none" filter="url(#bbl2)" stroke-linejoin="round" opacity="0.8"/>
<path d="M80 220 L84 228 L88 238 L90 246" stroke="#1e9488" stroke-width="6" fill="none" filter="url(#bbl2)" opacity="0.85"/>
<path d="M69.5 215 L69.5 244" stroke="#35b37a" stroke-width="3" fill="none" filter="url(#bbl2)" opacity="0.7"/>
<ellipse cx="56" cy="244" rx="7" ry="7" fill="#f0e41c" opacity="0.7" filter="url(#bbl)"/>
</g>
<linearGradient id="bspk2" gradientUnits="userSpaceOnUse" x1="0" y1="275" x2="0" y2="160"><stop offset="0" stop-color="#ece41c"/><stop offset="0.45" stop-color="#c6df25"/><stop offset="0.8" stop-color="#b5dd2b"/><stop offset="1" stop-color="#d6e21e"/></linearGradient>
<path d="M41.1 274.0 L41.1 250.0 L41.6 200.0 L42.3 162.4 L43.0 161.8 L44.0 169.1 L45.2 215.0 L45.5 240.0 L44.0 274.0 Z" fill="url(#bspk2)"/>
<path d="M67.1 226.4 L67.5 244.6 L68.3 244.6 L68.8 211.2 L66 211 Z" fill="#fff"/>
<rect x="35.3" y="143.1" width="168.0" height="136.4" fill="none" stroke="#8a8a8a" stroke-width="1"/>
<text x="31.80" y="283.00" font-size="8.6" fill="#222" text-anchor="end"  stroke="#222" stroke-width="0.14">0</text>
<text x="31.80" y="255.72" font-size="8.6" fill="#222" text-anchor="end"  stroke="#222" stroke-width="0.14">30</text>
<text x="31.80" y="228.44" font-size="8.6" fill="#222" text-anchor="end"  stroke="#222" stroke-width="0.14">60</text>
<text x="31.80" y="201.16" font-size="8.6" fill="#222" text-anchor="end"  stroke="#222" stroke-width="0.14">90</text>
<text x="31.80" y="173.88" font-size="8.6" fill="#222" text-anchor="end"  stroke="#222" stroke-width="0.14">120</text>
<text x="31.80" y="146.60" font-size="8.6" fill="#222" text-anchor="end"  stroke="#222" stroke-width="0.14">150</text>
<text x="35.80" y="290.10" font-size="8.6" fill="#222" text-anchor="middle"  stroke="#222" stroke-width="0.14">0</text>
<text x="59.73" y="290.10" font-size="8.6" fill="#222" text-anchor="middle"  stroke="#222" stroke-width="0.14">100</text>
<text x="83.66" y="290.10" font-size="8.6" fill="#222" text-anchor="middle"  stroke="#222" stroke-width="0.14">200</text>
<text x="107.59" y="290.10" font-size="8.6" fill="#222" text-anchor="middle"  stroke="#222" stroke-width="0.14">300</text>
<text x="131.52" y="290.10" font-size="8.6" fill="#222" text-anchor="middle"  stroke="#222" stroke-width="0.14">400</text>
<text x="155.45" y="290.10" font-size="8.6" fill="#222" text-anchor="middle"  stroke="#222" stroke-width="0.14">500</text>
<text x="179.38" y="290.10" font-size="8.6" fill="#222" text-anchor="middle"  stroke="#222" stroke-width="0.14">600</text>
<text x="203.31" y="290.10" font-size="8.6" fill="#222" text-anchor="middle"  stroke="#222" stroke-width="0.14">700</text>
<path d="M32.8 279.5 H35.3 M32.8 252.2 H35.3 M32.8 224.9 H35.3 M32.8 197.7 H35.3 M32.8 170.4 H35.3 M32.8 143.1 H35.3 M35.8 279.5 V282.0 M59.7 279.5 V282.0 M83.7 279.5 V282.0 M107.6 279.5 V282.0 M131.5 279.5 V282.0 M155.4 279.5 V282.0 M179.4 279.5 V282.0 M203.3 279.5 V282.0" stroke="#8a8a8a" stroke-width="0.9" fill="none"/>
<text transform="translate(15.8 214.4) rotate(-90)" font-size="11" fill="#111" text-anchor="middle" stroke="#111" stroke-width="0.14"><tspan font-family="Liberation Serif" font-style="italic" font-size="11.5">S</tspan><tspan font-size="7.5" dy="2">0</tspan><tspan dy="-2"> (mS)</tspan></text>
<text y="305.3" font-size="11" fill="#111" stroke="#111" stroke-width="0.14"><tspan x="98.6" font-family="Liberation Serif" font-style="italic" font-size="12.5">ε</tspan><tspan x="104.4" font-family="Liberation Serif" font-size="8.6" dy="2.5">10%</tspan><tspan x="124.2" dy="-2.5" font-size="12.2">(%)</tspan></text>
<path d="M66.60 154.60 L67.91 158.10 L71.64 158.26 L68.72 160.59 L69.72 164.19 L66.60 162.13 L63.48 164.19 L64.48 160.59 L61.56 158.26 L65.29 158.10 Z" fill="#d2600f" stroke="none" stroke-width="0"/>
<text x="77.60" y="155.00" font-size="8.9" fill="#222" text-anchor="start"  stroke="#222" stroke-width="0.14">Model-Suggested</text>
<text x="77.60" y="165.60" font-size="8.9" fill="#222" text-anchor="start"  stroke="#222" stroke-width="0.14">Fabrication Parameters</text>
<rect x="162.3" y="245.6" width="38.1" height="25.9" fill="none" stroke="#1f78c0" stroke-width="1.2" stroke-dasharray="3.2 2"/>
<text x="202.50" y="237.60" font-size="8.85" fill="#2a80c4" text-anchor="end"  stroke="#2a80c4" stroke-width="0.14">Targeted Region</text>
<path d="M191.00 258.50 L192.31 262.00 L196.04 262.16 L193.12 264.49 L194.12 268.09 L191.00 266.03 L187.88 268.09 L188.88 264.49 L185.96 262.16 L189.69 262.00 Z" fill="#d2600f" stroke="none" stroke-width="0"/>
<rect x="213.2" y="143.3" width="7" height="136.5" fill="url(#vir)"/>
<text x="225.70" y="281.30" font-size="8.6" fill="#222" text-anchor="start"  stroke="#222" stroke-width="0.14">0</text>
<text x="225.70" y="260.00" font-size="8.6" fill="#222" text-anchor="start"  stroke="#222" stroke-width="0.14">10</text>
<text x="225.70" y="238.70" font-size="8.6" fill="#222" text-anchor="start"  stroke="#222" stroke-width="0.14">20</text>
<text x="225.70" y="217.40" font-size="8.6" fill="#222" text-anchor="start"  stroke="#222" stroke-width="0.14">30</text>
<text x="225.70" y="196.10" font-size="8.6" fill="#222" text-anchor="start"  stroke="#222" stroke-width="0.14">40</text>
<text x="225.70" y="174.80" font-size="8.6" fill="#222" text-anchor="start"  stroke="#222" stroke-width="0.14">50</text>
<text x="225.70" y="153.50" font-size="8.6" fill="#222" text-anchor="start"  stroke="#222" stroke-width="0.14">60</text>
<path d="M220.2 278.2 H222 M220.2 256.9 H222 M220.2 235.6 H222 M220.2 214.3 H222 M220.2 193.0 H222 M220.2 171.7 H222 M220.2 150.4 H222" stroke="#555" stroke-width="0.8"/>
<text transform="translate(238.6 214.6) rotate(90)" font-size="11.6" fill="#111" text-anchor="middle" stroke="#111" stroke-width="0.14">Model Uncertainty (%)</text>
<text x="255.00" y="142.20" font-size="13.2" fill="#111" text-anchor="start"  stroke="#111" stroke-width="0.14">c</text>
<text x="290.50" y="279.20" font-size="8.6" fill="#222" text-anchor="end"  stroke="#222" stroke-width="0.14">0.0</text>
<text x="290.50" y="245.90" font-size="8.6" fill="#222" text-anchor="end"  stroke="#222" stroke-width="0.14">0.5</text>
<text x="290.50" y="212.60" font-size="8.6" fill="#222" text-anchor="end"  stroke="#222" stroke-width="0.14">1.0</text>
<text x="290.50" y="179.30" font-size="8.6" fill="#222" text-anchor="end"  stroke="#222" stroke-width="0.14">1.5</text>
<text x="290.50" y="146.00" font-size="8.6" fill="#222" text-anchor="end"  stroke="#222" stroke-width="0.14">2.0</text>
<text x="297.70" y="291.50" font-size="8.6" fill="#222" text-anchor="middle"  stroke="#222" stroke-width="0.14">0</text>
<text x="352.60" y="291.50" font-size="8.6" fill="#222" text-anchor="middle"  stroke="#222" stroke-width="0.14">500</text>
<text x="407.50" y="291.50" font-size="8.6" fill="#222" text-anchor="middle"  stroke="#222" stroke-width="0.14">1000</text>
<text x="462.40" y="291.50" font-size="8.6" fill="#222" text-anchor="middle"  stroke="#222" stroke-width="0.14">1500</text>
<path d="M292.5 276.1 H295.0 M292.5 242.8 H295.0 M292.5 209.5 H295.0 M292.5 176.2 H295.0 M292.5 142.9 H295.0 M293.5 259.5 H295.0 M293.5 226.2 H295.0 M293.5 192.9 H295.0 M293.5 159.6 H295.0 M297.7 280.5 V283.0 M352.6 280.5 V283.0 M407.5 280.5 V283.0 M462.4 280.5 V283.0 M325.1 280.5 V282.0 M380.0 280.5 V282.0 M434.9 280.5 V282.0" stroke="#8a8a8a" stroke-width="0.9" fill="none"/>
<svg x="295" y="142.9" width="167.5" height="137.6" viewBox="295 142.9 167.5 137.6" overflow="hidden">
<polyline points="298.5,276.8 304.0,276.8 310.0,276.8 316.0,276.8 322.0,276.8 328.0,276.8 334.0,276.9 340.0,276.9 346.0,276.7 352.0,276.5 358.0,276.2 364.0,275.6 370.0,275.0 376.0,274.2 382.0,273.5 388.0,272.6 394.0,271.5 400.0,270.5 405.0,269.0 410.7,266.4 416.4,263.2 421.6,257.4 427.7,242.1 431.3,222.8 432.7,213.8 434.4,196.2 437.5,167.9 439.8,140.0" fill="none" stroke="#dd6a16" stroke-width="1.1"/>
<circle cx="298.5" cy="276.8" r="2.65" fill="#fff" stroke="#dd6a16" stroke-width="1.3"/><circle cx="304.0" cy="276.8" r="2.65" fill="#fff" stroke="#dd6a16" stroke-width="1.3"/><circle cx="310.0" cy="276.8" r="2.65" fill="#fff" stroke="#dd6a16" stroke-width="1.3"/><circle cx="316.0" cy="276.8" r="2.65" fill="#fff" stroke="#dd6a16" stroke-width="1.3"/><circle cx="322.0" cy="276.8" r="2.65" fill="#fff" stroke="#dd6a16" stroke-width="1.3"/><circle cx="328.0" cy="276.8" r="2.65" fill="#fff" stroke="#dd6a16" stroke-width="1.3"/><circle cx="334.0" cy="276.9" r="2.65" fill="#fff" stroke="#dd6a16" stroke-width="1.3"/><circle cx="340.0" cy="276.9" r="2.65" fill="#fff" stroke="#dd6a16" stroke-width="1.3"/><circle cx="346.0" cy="276.7" r="2.65" fill="#fff" stroke="#dd6a16" stroke-width="1.3"/><circle cx="352.0" cy="276.5" r="2.65" fill="#fff" stroke="#dd6a16" stroke-width="1.3"/><circle cx="358.0" cy="276.2" r="2.65" fill="#fff" stroke="#dd6a16" stroke-width="1.3"/><circle cx="364.0" cy="275.6" r="2.65" fill="#fff" stroke="#dd6a16" stroke-width="1.3"/><circle cx="370.0" cy="275.0" r="2.65" fill="#fff" stroke="#dd6a16" stroke-width="1.3"/><circle cx="376.0" cy="274.2" r="2.65" fill="#fff" stroke="#dd6a16" stroke-width="1.3"/><circle cx="382.0" cy="273.5" r="2.65" fill="#fff" stroke="#dd6a16" stroke-width="1.3"/><circle cx="388.0" cy="272.6" r="2.65" fill="#fff" stroke="#dd6a16" stroke-width="1.3"/><circle cx="394.0" cy="271.5" r="2.65" fill="#fff" stroke="#dd6a16" stroke-width="1.3"/><circle cx="400.0" cy="270.5" r="2.65" fill="#fff" stroke="#dd6a16" stroke-width="1.3"/><circle cx="405.0" cy="269.0" r="2.65" fill="#fff" stroke="#dd6a16" stroke-width="1.3"/><circle cx="410.7" cy="266.4" r="2.65" fill="#fff" stroke="#dd6a16" stroke-width="1.3"/><circle cx="416.4" cy="263.2" r="2.65" fill="#fff" stroke="#dd6a16" stroke-width="1.3"/><circle cx="421.6" cy="257.4" r="2.65" fill="#fff" stroke="#dd6a16" stroke-width="1.3"/><circle cx="427.7" cy="242.1" r="2.65" fill="#fff" stroke="#dd6a16" stroke-width="1.3"/><circle cx="431.3" cy="222.8" r="2.65" fill="#fff" stroke="#dd6a16" stroke-width="1.3"/><circle cx="432.7" cy="213.8" r="2.65" fill="#fff" stroke="#dd6a16" stroke-width="1.3"/><circle cx="434.4" cy="196.2" r="2.65" fill="#fff" stroke="#dd6a16" stroke-width="1.3"/><circle cx="437.5" cy="167.9" r="2.65" fill="#fff" stroke="#dd6a16" stroke-width="1.3"/>
<polyline points="296.8,275.9 299.5,275.9 302.2,275.9 305.0,275.9 309.5,275.9 312.0,275.9 315.1,275.9 320.4,274.5 325.7,274.5 330.0,274.5 336.2,274.7 340.5,274.7 344.0,274.5 350.2,274.2 354.6,272.9 360.7,272.9 367.7,272.9 372.1,272.9 377.3,270.1 382.6,270.1 387.0,270.1 394.0,270.7 398.4,270.7 403.6,269.4 408.9,268.9 414.4,269.1 420.6,264.1 427.1,252.1 434.4,230.1 439.4,207.1 445.3,153.2 446.8,140.0" fill="none" stroke="#1f78b8" stroke-width="1.1"/>
<circle cx="296.8" cy="275.9" r="2.65" fill="#fff" stroke="#1f78b8" stroke-width="1.3"/><circle cx="299.5" cy="275.9" r="2.65" fill="#fff" stroke="#1f78b8" stroke-width="1.3"/><circle cx="302.2" cy="275.9" r="2.65" fill="#fff" stroke="#1f78b8" stroke-width="1.3"/><circle cx="305.0" cy="275.9" r="2.65" fill="#fff" stroke="#1f78b8" stroke-width="1.3"/><circle cx="309.5" cy="275.9" r="2.65" fill="#fff" stroke="#1f78b8" stroke-width="1.3"/><circle cx="312.0" cy="275.9" r="2.65" fill="#fff" stroke="#1f78b8" stroke-width="1.3"/><circle cx="315.1" cy="275.9" r="2.65" fill="#fff" stroke="#1f78b8" stroke-width="1.3"/><circle cx="320.4" cy="274.5" r="2.65" fill="#fff" stroke="#1f78b8" stroke-width="1.3"/><circle cx="325.7" cy="274.5" r="2.65" fill="#fff" stroke="#1f78b8" stroke-width="1.3"/><circle cx="330.0" cy="274.5" r="2.65" fill="#fff" stroke="#1f78b8" stroke-width="1.3"/><circle cx="336.2" cy="274.7" r="2.65" fill="#fff" stroke="#1f78b8" stroke-width="1.3"/><circle cx="340.5" cy="274.7" r="2.65" fill="#fff" stroke="#1f78b8" stroke-width="1.3"/><circle cx="344.0" cy="274.5" r="2.65" fill="#fff" stroke="#1f78b8" stroke-width="1.3"/><circle cx="350.2" cy="274.2" r="2.65" fill="#fff" stroke="#1f78b8" stroke-width="1.3"/><circle cx="354.6" cy="272.9" r="2.65" fill="#fff" stroke="#1f78b8" stroke-width="1.3"/><circle cx="360.7" cy="272.9" r="2.65" fill="#fff" stroke="#1f78b8" stroke-width="1.3"/><circle cx="367.7" cy="272.9" r="2.65" fill="#fff" stroke="#1f78b8" stroke-width="1.3"/><circle cx="372.1" cy="272.9" r="2.65" fill="#fff" stroke="#1f78b8" stroke-width="1.3"/><circle cx="377.3" cy="270.1" r="2.65" fill="#fff" stroke="#1f78b8" stroke-width="1.3"/><circle cx="382.6" cy="270.1" r="2.65" fill="#fff" stroke="#1f78b8" stroke-width="1.3"/><circle cx="387.0" cy="270.1" r="2.65" fill="#fff" stroke="#1f78b8" stroke-width="1.3"/><circle cx="394.0" cy="270.7" r="2.65" fill="#fff" stroke="#1f78b8" stroke-width="1.3"/><circle cx="398.4" cy="270.7" r="2.65" fill="#fff" stroke="#1f78b8" stroke-width="1.3"/><circle cx="403.6" cy="269.4" r="2.65" fill="#fff" stroke="#1f78b8" stroke-width="1.3"/><circle cx="408.9" cy="268.9" r="2.65" fill="#fff" stroke="#1f78b8" stroke-width="1.3"/><circle cx="414.4" cy="269.1" r="2.65" fill="#fff" stroke="#1f78b8" stroke-width="1.3"/><circle cx="420.6" cy="264.1" r="2.65" fill="#fff" stroke="#1f78b8" stroke-width="1.3"/><circle cx="427.1" cy="252.1" r="2.65" fill="#fff" stroke="#1f78b8" stroke-width="1.3"/><circle cx="434.4" cy="230.1" r="2.65" fill="#fff" stroke="#1f78b8" stroke-width="1.3"/><circle cx="439.4" cy="207.1" r="2.65" fill="#fff" stroke="#1f78b8" stroke-width="1.3"/><circle cx="445.3" cy="153.2" r="2.65" fill="#fff" stroke="#1f78b8" stroke-width="1.3"/>
<polyline points="298.0,276.0 302.0,276.0 306.0,276.0 310.0,275.5 312.5,274.5 314.2,272.4 315.6,263.5 316.5,259.3 316.9,249.7 318.6,229.3 319.5,140.0" fill="none" stroke="#1a9e77" stroke-width="1.1"/>
<circle cx="298.0" cy="276.0" r="2.65" fill="#fff" stroke="#1a9e77" stroke-width="1.3"/><circle cx="302.0" cy="276.0" r="2.65" fill="#fff" stroke="#1a9e77" stroke-width="1.3"/><circle cx="306.0" cy="276.0" r="2.65" fill="#fff" stroke="#1a9e77" stroke-width="1.3"/><circle cx="310.0" cy="275.5" r="2.65" fill="#fff" stroke="#1a9e77" stroke-width="1.3"/><circle cx="312.5" cy="274.5" r="2.65" fill="#fff" stroke="#1a9e77" stroke-width="1.3"/><circle cx="314.2" cy="272.4" r="2.65" fill="#fff" stroke="#1a9e77" stroke-width="1.3"/><circle cx="315.6" cy="263.5" r="2.65" fill="#fff" stroke="#1a9e77" stroke-width="1.3"/><circle cx="316.5" cy="259.3" r="2.65" fill="#fff" stroke="#1a9e77" stroke-width="1.3"/><circle cx="316.9" cy="249.7" r="2.65" fill="#fff" stroke="#1a9e77" stroke-width="1.3"/><circle cx="318.6" cy="229.3" r="2.65" fill="#fff" stroke="#1a9e77" stroke-width="1.3"/>
<polyline points="298.0,276.5 300.5,276.0 302.6,274.5 304.7,272.4 306.4,266.0 307.9,252.4 308.9,232.4 310.4,186.6 311.0,173.6 312.5,145.7 312.8,140.0" fill="none" stroke="#dd74b4" stroke-width="1.1"/>
<circle cx="298.0" cy="276.5" r="2.65" fill="#fff" stroke="#dd74b4" stroke-width="1.3"/><circle cx="300.5" cy="276.0" r="2.65" fill="#fff" stroke="#dd74b4" stroke-width="1.3"/><circle cx="302.6" cy="274.5" r="2.65" fill="#fff" stroke="#dd74b4" stroke-width="1.3"/><circle cx="304.7" cy="272.4" r="2.65" fill="#fff" stroke="#dd74b4" stroke-width="1.3"/><circle cx="306.4" cy="266.0" r="2.65" fill="#fff" stroke="#dd74b4" stroke-width="1.3"/><circle cx="307.9" cy="252.4" r="2.65" fill="#fff" stroke="#dd74b4" stroke-width="1.3"/><circle cx="308.9" cy="232.4" r="2.65" fill="#fff" stroke="#dd74b4" stroke-width="1.3"/><circle cx="310.4" cy="186.6" r="2.65" fill="#fff" stroke="#dd74b4" stroke-width="1.3"/><circle cx="311.0" cy="173.6" r="2.65" fill="#fff" stroke="#dd74b4" stroke-width="1.3"/><circle cx="312.5" cy="145.7" r="2.65" fill="#fff" stroke="#dd74b4" stroke-width="1.3"/>
<circle cx="296.8" cy="275.9" r="2.65" fill="#fff" stroke="#1f78b8" stroke-width="1.3"/><circle cx="299.5" cy="275.9" r="2.65" fill="#fff" stroke="#1f78b8" stroke-width="1.3"/><circle cx="302.2" cy="275.9" r="2.65" fill="#fff" stroke="#1f78b8" stroke-width="1.3"/><circle cx="305.0" cy="275.9" r="2.65" fill="#fff" stroke="#1f78b8" stroke-width="1.3"/><circle cx="309.5" cy="275.9" r="2.65" fill="#fff" stroke="#1f78b8" stroke-width="1.3"/>
</svg>
<rect x="295.0" y="142.9" width="167.5" height="137.6" fill="none" stroke="#8a8a8a" stroke-width="1"/>
<text x="322.80" y="163.70" font-size="8.9" fill="#222" text-anchor="start"  stroke="#222" stroke-width="0.14">Deformation Sequence</text>
<path d="M337 175.3 H351.7" stroke="#1a9e77" stroke-width="1.1"/><circle cx="344.3" cy="175.3" r="2.9" fill="#fff" stroke="#1a9e77" stroke-width="1.3"/>
<text x="354.4" y="178.5" font-size="8.9" fill="#222" stroke="#222" stroke-width="0.14">G<tspan font-size="6" dy="1.8">1</tspan><tspan dy="-1.8">–1D</tspan></text>
<path d="M337 189.5 H351.7" stroke="#dd74b4" stroke-width="1.1"/><circle cx="344.3" cy="189.5" r="2.9" fill="#fff" stroke="#dd74b4" stroke-width="1.3"/>
<text x="354.4" y="192.7" font-size="8.9" fill="#222" stroke="#222" stroke-width="0.14">G<tspan font-size="6" dy="1.8">1</tspan><tspan dy="-1.8">–2D</tspan></text>
<path d="M337 203.7 H351.7" stroke="#dd6a16" stroke-width="1.1"/><circle cx="344.3" cy="203.7" r="2.9" fill="#fff" stroke="#dd6a16" stroke-width="1.3"/>
<text x="354.4" y="206.9" font-size="8.9" fill="#222" stroke="#222" stroke-width="0.14">G<tspan font-size="6" dy="1.8">2</tspan><tspan dy="-1.8">–2D1D</tspan></text>
<path d="M337 217.9 H351.7" stroke="#1f78b8" stroke-width="1.1"/><circle cx="344.3" cy="217.9" r="2.9" fill="#fff" stroke="#1f78b8" stroke-width="1.3"/>
<text x="354.4" y="221.1" font-size="8.9" fill="#222" stroke="#222" stroke-width="0.14">G<tspan font-size="6" dy="1.8">2</tspan><tspan dy="-1.8">–2D2D</tspan></text>
<text transform="translate(270.3 207.9) rotate(-90)" font-size="11" fill="#111" text-anchor="middle" letter-spacing="0.75" stroke="#111" stroke-width="0.14"><tspan font-family="Liberation Serif" font-style="italic" font-size="11.5">ΔR/R</tspan><tspan font-family="Liberation Serif" font-style="italic" font-size="8" dy="2">0</tspan><tspan dy="-2"> (–)</tspan></text>
<text x="379.50" y="305.00" font-size="11.5" fill="#111" text-anchor="middle"  stroke="#111" stroke-width="0.14">Uniaxial Elongation (%)</text>
<text x="470.40" y="142.60" font-size="13.6" fill="#000" text-anchor="start"  stroke="#000" stroke-width="0.14">d</text>
<text x="504.50" y="279.00" font-size="8.6" fill="#222" text-anchor="end"  stroke="#222" stroke-width="0.14">0.0</text>
<text x="504.50" y="245.70" font-size="8.6" fill="#222" text-anchor="end"  stroke="#222" stroke-width="0.14">0.5</text>
<text x="504.50" y="212.40" font-size="8.6" fill="#222" text-anchor="end"  stroke="#222" stroke-width="0.14">1.0</text>
<text x="504.50" y="179.10" font-size="8.6" fill="#222" text-anchor="end"  stroke="#222" stroke-width="0.14">1.5</text>
<text x="504.50" y="145.80" font-size="8.6" fill="#222" text-anchor="end"  stroke="#222" stroke-width="0.14">2.0</text>
<text x="511.60" y="292.00" font-size="8.6" fill="#222" text-anchor="middle"  stroke="#222" stroke-width="0.14">0</text>
<text x="566.30" y="292.00" font-size="8.6" fill="#222" text-anchor="middle"  stroke="#222" stroke-width="0.14">500</text>
<text x="621.00" y="292.00" font-size="8.6" fill="#222" text-anchor="middle"  stroke="#222" stroke-width="0.14">1000</text>
<text x="675.70" y="292.00" font-size="8.6" fill="#222" text-anchor="middle"  stroke="#222" stroke-width="0.14">1500</text>
<path d="M506.5 275.9 H509.0 M506.5 242.6 H509.0 M506.5 209.3 H509.0 M506.5 176.0 H509.0 M506.5 142.7 H509.0 M507.5 259.2 H509.0 M507.5 225.9 H509.0 M507.5 192.6 H509.0 M507.5 159.3 H509.0 M511.6 281.0 V283.5 M566.3 281.0 V283.5 M621.0 281.0 V283.5 M675.7 281.0 V283.5 M539.0 281.0 V282.5 M593.6 281.0 V282.5 M648.4 281.0 V282.5" stroke="#555" stroke-width="0.9" fill="none"/>
<linearGradient id="pgray" x1="0" y1="0" x2="1" y2="0"><stop offset="0" stop-color="#b8b8b8"/><stop offset="0.5" stop-color="#e0e0e0"/><stop offset="1" stop-color="#b8b8b8"/></linearGradient>
<filter id="pnoise" x="0" y="0" width="1" height="1"><feTurbulence type="fractalNoise" baseFrequency="0.5" numOctaves="2" seed="4"/><feColorMatrix type="matrix" values="0 0 0 0 0  0 0 0 0 0  0 0 0 0 0  0.6 0 0 0 -0.2"/><feComposite in2="SourceGraphic" operator="in"/></filter>
<rect x="515.2" y="202.9" width="70.6" height="25" fill="url(#pgray)"/>
<rect x="521.4" y="204" width="59.2" height="23.4" fill="#c4824a"/>
<path d="M521.4 204 H548 Q560 212 581 216 V227.4 H570 Q552 220 540 214 Q530 210 521.4 212 Z" fill="#ecc890"/>
<path d="M521.4 204 H536 Q530 208 521.4 208 Z" fill="#f4dcb0"/>
<path d="M556 227.4 Q566 222 581 222 V227.4 Z" fill="#f2d8a0" opacity="0.8"/>
<rect x="521.4" y="204" width="59.2" height="23.4" fill="#000" filter="url(#pnoise)" opacity="0.5"/>
<path d="M550.3 203 V228" stroke="#2a2a2a" stroke-width="1.2"/>
<rect x="548.6" y="208.2" width="3.4" height="16.2" fill="none" stroke="#29a8e0" stroke-width="1.2"/>
<rect x="515.2" y="230.2" width="70.6" height="25" fill="url(#pgray)"/>
<rect x="515.2" y="231" width="26" height="23.5" fill="#d48e52"/>
<path d="M515.2 246 Q522 244 528 250 L530 254.5 H515.2 Z" fill="#f0e2a0"/>
<rect x="560.5" y="231" width="25.3" height="23.5" fill="#d69460"/>
<rect x="541" y="236" width="21" height="15" fill="#6a4a1a"/>
<rect x="515.2" y="231" width="70.6" height="23.5" fill="#000" filter="url(#pnoise)" opacity="0.4"/>
<rect x="540.4" y="235.6" width="22" height="15.9" fill="none" stroke="#29a8e0" stroke-width="1.5"/>
<svg x="509" y="142.7" width="166.5" height="138.3" viewBox="509 142.7 166.5 138.3" overflow="hidden">
<polyline points="510.8,275.7 516.8,274.4 523.4,273.6 530.0,273.0 536.5,272.3 543.1,271.5 548.4,270.9 553.6,269.6 558.9,268.8 564.1,267.0 569.4,265.7 574.6,263.8 579.9,263.1 583.8,262.0 587.8,261.7 591.2,261.2 595.6,255.2 599.1,253.3 602.2,252.0 605.4,249.4 608.8,246.0 616.7,236.8 620.6,232.3 625.1,224.4 628.0,220.5 631.9,211.3 636.4,200.0 640.0,190.8 643.2,184.4 648.0,170.0 652.9,153.9 654.6,140.0" fill="none" stroke="#dd6a16" stroke-width="1.1"/>
<circle cx="510.8" cy="275.7" r="2.65" fill="#fff" stroke="#dd6a16" stroke-width="1.3"/><circle cx="516.8" cy="274.4" r="2.65" fill="#fff" stroke="#dd6a16" stroke-width="1.3"/><circle cx="523.4" cy="273.6" r="2.65" fill="#fff" stroke="#dd6a16" stroke-width="1.3"/><circle cx="530.0" cy="273.0" r="2.65" fill="#fff" stroke="#dd6a16" stroke-width="1.3"/><circle cx="536.5" cy="272.3" r="2.65" fill="#fff" stroke="#dd6a16" stroke-width="1.3"/><circle cx="543.1" cy="271.5" r="2.65" fill="#fff" stroke="#dd6a16" stroke-width="1.3"/><circle cx="548.4" cy="270.9" r="2.65" fill="#fff" stroke="#dd6a16" stroke-width="1.3"/><circle cx="553.6" cy="269.6" r="2.65" fill="#fff" stroke="#dd6a16" stroke-width="1.3"/><circle cx="558.9" cy="268.8" r="2.65" fill="#fff" stroke="#dd6a16" stroke-width="1.3"/><circle cx="564.1" cy="267.0" r="2.65" fill="#fff" stroke="#dd6a16" stroke-width="1.3"/><circle cx="569.4" cy="265.7" r="2.65" fill="#fff" stroke="#dd6a16" stroke-width="1.3"/><circle cx="574.6" cy="263.8" r="2.65" fill="#fff" stroke="#dd6a16" stroke-width="1.3"/><circle cx="579.9" cy="263.1" r="2.65" fill="#fff" stroke="#dd6a16" stroke-width="1.3"/><circle cx="583.8" cy="262.0" r="2.65" fill="#fff" stroke="#dd6a16" stroke-width="1.3"/><circle cx="587.8" cy="261.7" r="2.65" fill="#fff" stroke="#dd6a16" stroke-width="1.3"/><circle cx="591.2" cy="261.2" r="2.65" fill="#fff" stroke="#dd6a16" stroke-width="1.3"/><circle cx="595.6" cy="255.2" r="2.65" fill="#fff" stroke="#dd6a16" stroke-width="1.3"/><circle cx="599.1" cy="253.3" r="2.65" fill="#fff" stroke="#dd6a16" stroke-width="1.3"/><circle cx="602.2" cy="252.0" r="2.65" fill="#fff" stroke="#dd6a16" stroke-width="1.3"/><circle cx="605.4" cy="249.4" r="2.65" fill="#fff" stroke="#dd6a16" stroke-width="1.3"/><circle cx="608.8" cy="246.0" r="2.65" fill="#fff" stroke="#dd6a16" stroke-width="1.3"/><circle cx="616.7" cy="236.8" r="2.65" fill="#fff" stroke="#dd6a16" stroke-width="1.3"/><circle cx="620.6" cy="232.3" r="2.65" fill="#fff" stroke="#dd6a16" stroke-width="1.3"/><circle cx="625.1" cy="224.4" r="2.65" fill="#fff" stroke="#dd6a16" stroke-width="1.3"/><circle cx="628.0" cy="220.5" r="2.65" fill="#fff" stroke="#dd6a16" stroke-width="1.3"/><circle cx="631.9" cy="211.3" r="2.65" fill="#fff" stroke="#dd6a16" stroke-width="1.3"/><circle cx="636.4" cy="200.0" r="2.65" fill="#fff" stroke="#dd6a16" stroke-width="1.3"/><circle cx="640.0" cy="190.8" r="2.65" fill="#fff" stroke="#dd6a16" stroke-width="1.3"/><circle cx="643.2" cy="184.4" r="2.65" fill="#fff" stroke="#dd6a16" stroke-width="1.3"/><circle cx="648.0" cy="170.0" r="2.65" fill="#fff" stroke="#dd6a16" stroke-width="1.3"/><circle cx="652.9" cy="153.9" r="2.65" fill="#fff" stroke="#dd6a16" stroke-width="1.3"/>
<polyline points="511.6,276.2 516.8,276.2 522.9,276.2 528.1,276.2 533.9,274.9 537.8,274.9 543.1,274.9 549.7,274.9 556.2,274.9 562.8,274.4 568.1,274.1 573.8,273.6 579.9,273.0 585.1,273.0 590.4,270.4 595.6,270.4 600.9,270.4 606.2,270.4 611.4,270.4 616.7,269.6 621.9,269.6 627.2,269.6 633.7,263.6 639.8,252.0 646.9,230.2 652.7,207.1 658.6,153.3 660.0,140.0" fill="none" stroke="#1f78b8" stroke-width="1.1"/>
<circle cx="511.6" cy="276.2" r="2.65" fill="#fff" stroke="#1f78b8" stroke-width="1.3"/><circle cx="516.8" cy="276.2" r="2.65" fill="#fff" stroke="#1f78b8" stroke-width="1.3"/><circle cx="522.9" cy="276.2" r="2.65" fill="#fff" stroke="#1f78b8" stroke-width="1.3"/><circle cx="528.1" cy="276.2" r="2.65" fill="#fff" stroke="#1f78b8" stroke-width="1.3"/><circle cx="533.9" cy="274.9" r="2.65" fill="#fff" stroke="#1f78b8" stroke-width="1.3"/><circle cx="537.8" cy="274.9" r="2.65" fill="#fff" stroke="#1f78b8" stroke-width="1.3"/><circle cx="543.1" cy="274.9" r="2.65" fill="#fff" stroke="#1f78b8" stroke-width="1.3"/><circle cx="549.7" cy="274.9" r="2.65" fill="#fff" stroke="#1f78b8" stroke-width="1.3"/><circle cx="556.2" cy="274.9" r="2.65" fill="#fff" stroke="#1f78b8" stroke-width="1.3"/><circle cx="562.8" cy="274.4" r="2.65" fill="#fff" stroke="#1f78b8" stroke-width="1.3"/><circle cx="568.1" cy="274.1" r="2.65" fill="#fff" stroke="#1f78b8" stroke-width="1.3"/><circle cx="573.8" cy="273.6" r="2.65" fill="#fff" stroke="#1f78b8" stroke-width="1.3"/><circle cx="579.9" cy="273.0" r="2.65" fill="#fff" stroke="#1f78b8" stroke-width="1.3"/><circle cx="585.1" cy="273.0" r="2.65" fill="#fff" stroke="#1f78b8" stroke-width="1.3"/><circle cx="590.4" cy="270.4" r="2.65" fill="#fff" stroke="#1f78b8" stroke-width="1.3"/><circle cx="595.6" cy="270.4" r="2.65" fill="#fff" stroke="#1f78b8" stroke-width="1.3"/><circle cx="600.9" cy="270.4" r="2.65" fill="#fff" stroke="#1f78b8" stroke-width="1.3"/><circle cx="606.2" cy="270.4" r="2.65" fill="#fff" stroke="#1f78b8" stroke-width="1.3"/><circle cx="611.4" cy="270.4" r="2.65" fill="#fff" stroke="#1f78b8" stroke-width="1.3"/><circle cx="616.7" cy="269.6" r="2.65" fill="#fff" stroke="#1f78b8" stroke-width="1.3"/><circle cx="621.9" cy="269.6" r="2.65" fill="#fff" stroke="#1f78b8" stroke-width="1.3"/><circle cx="627.2" cy="269.6" r="2.65" fill="#fff" stroke="#1f78b8" stroke-width="1.3"/><circle cx="633.7" cy="263.6" r="2.65" fill="#fff" stroke="#1f78b8" stroke-width="1.3"/><circle cx="639.8" cy="252.0" r="2.65" fill="#fff" stroke="#1f78b8" stroke-width="1.3"/><circle cx="646.9" cy="230.2" r="2.65" fill="#fff" stroke="#1f78b8" stroke-width="1.3"/><circle cx="652.7" cy="207.1" r="2.65" fill="#fff" stroke="#1f78b8" stroke-width="1.3"/><circle cx="658.6" cy="153.3" r="2.65" fill="#fff" stroke="#1f78b8" stroke-width="1.3"/>
</svg>
<rect x="509.0" y="142.7" width="166.5" height="138.3" fill="none" stroke="#8a8a8a" stroke-width="1"/>
<text x="519.00" y="164.20" font-size="8.9" fill="#222" text-anchor="start"  stroke="#222" stroke-width="0.14">Interlayer Conductance</text>
<path d="M522.8 175.4 H538.9" stroke="#dd6a16" stroke-width="1.1"/><circle cx="530.8" cy="175.4" r="2.9" fill="#fff" stroke="#dd6a16" stroke-width="1.3"/>
<text x="541.4" y="178.6" font-size="8.9" fill="#222" stroke="#222" stroke-width="0.14">Low <tspan font-family="Liberation Serif" font-style="italic">S</tspan><tspan font-size="6" dy="1.8">0</tspan></text>
<path d="M522.8 189.2 H538.9" stroke="#1f78b8" stroke-width="1.1"/><circle cx="530.8" cy="189.2" r="2.9" fill="#fff" stroke="#1f78b8" stroke-width="1.3"/>
<text x="541.4" y="192.4" font-size="8.9" fill="#222" stroke="#222" stroke-width="0.14">Optimized &amp; High <tspan font-family="Liberation Serif" font-style="italic">S</tspan><tspan font-size="6" dy="1.8">0</tspan></text>
<text transform="translate(484.3 207.9) rotate(-90)" font-size="11" fill="#111" text-anchor="middle" letter-spacing="0.75" stroke="#111" stroke-width="0.14"><tspan font-family="Liberation Serif" font-style="italic" font-size="11.5">ΔR/R</tspan><tspan font-family="Liberation Serif" font-style="italic" font-size="8" dy="2">0</tspan><tspan dy="-2"> (–)</tspan></text>
<text x="589.40" y="308.60" font-size="11.5" fill="#111" text-anchor="middle"  stroke="#111" stroke-width="0.14">Uniaxial Elongation (%)</text>
<text x="0.60" y="332.50" font-size="13.6" fill="#000" text-anchor="start"  stroke="#000" stroke-width="0.14">e</text>
<clipPath id="cE1"><rect x="12.5" y="323.8" width="89.6" height="88.9"/></clipPath>
<g clip-path="url(#cE1)">
<rect x="12.5" y="323.8" width="89.6" height="88.9" filter="url(#tE1)"/>
<g filter="url(#bl18)"><path d="M31.2 323.0 L32.0 325.2 L32.4 327.4 L33.4 329.6 L33.5 331.7 L33.8 333.9 L34.0 336.1 L33.4 338.3 L34.7 340.5 L34.3 342.7 L34.7 344.9 L34.2 347.1 L34.7 349.3 L35.7 351.9 L34.9 354.4 L35.7 357.0" stroke="#282828" stroke-width="14.0" fill="none" opacity="0.5" stroke-linecap="round"/><path d="M49.5 330.0 L49.4 332.4 L48.9 334.8 L48.7 337.2 L48.2 339.5 L47.3 341.9 L46.6 344.3 L46.6 346.7 L46.4 349.3 L46.6 351.9 L46.4 354.6 L46.5 357.2 L44.6 358.9 L42.9 360.6 L41.8 362.3 L40.6 364.0 L38.3 365.7 L35.5 367.3 L34.0 369.0 L34.5 371.2 L34.1 373.4 L32.7 375.6 L32.2 377.7 L31.4 379.9 L31.2 382.1 L31.2 384.5 L32.6 386.9 L32.7 389.4 L31.9 391.8 L31.6 394.2 L33.0 396.6 L32.5 398.8 L32.8 401.0 L31.8 403.2 L32.5 405.4 L32.3 407.6 L32.0 409.8 L31.7 412.0" stroke="#282828" stroke-width="8.7" fill="none" opacity="0.5" stroke-linecap="round"/><path d="M67.4 323.0 L67.3 325.3 L66.8 327.5 L67.3 329.8 L65.9 332.0 L66.1 334.3 L65.9 336.5 L65.9 338.8 L65.9 341.4 L64.3 344.1 L64.3 346.7 L63.8 349.3 L63.5 351.9 L63.5 354.5 L63.4 357.2 L63.0 359.8 L62.6 362.4 L62.6 364.6 L63.7 366.8 L63.7 369.0 L63.7 371.2 L63.1 373.4 L63.7 375.6 L64.4 378.2 L64.0 380.8 L64.6 383.5 L64.8 386.1 L64.7 388.7 L65.6 391.3 L65.5 393.9 L64.5 396.6 L64.2 399.2 L64.3 401.8 L64.9 404.0 L64.3 406.3 L65.1 408.5 L65.3 410.8 L64.8 413.0" stroke="#282828" stroke-width="11.2" fill="none" opacity="0.5" stroke-linecap="round"/><path d="M65.9 324.0 L66.4 326.5 L66.0 329.0 L65.5 331.5 L65.0 334.0" stroke="#282828" stroke-width="18.7" fill="none" opacity="0.5" stroke-linecap="round"/><path d="M80.5 338.8 L81.1 340.9 L81.9 343.0 L84.1 345.1 L84.1 347.2 L86.2 349.3 L86.8 351.4 L87.0 353.5 L87.9 355.6 L88.4 357.7 L89.1 359.8 L90.6 362.1 L90.3 364.4 L91.1 366.7 L92.9 369.0 L92.3 371.6 L92.8 374.2 L93.1 376.9 L93.5 379.5 L94.0 382.1 L94.2 384.4 L93.9 386.7 L94.3 389.0 L94.8 391.3" stroke="#282828" stroke-width="14.0" fill="none" opacity="0.5" stroke-linecap="round"/><path d="M18.0 353.2 L18.2 355.5 L17.9 357.8 L18.0 360.1 L18.5 362.4 L18.7 364.9 L17.6 367.4 L17.0 370.0 L16.8 372.5 L17.0 375.0" stroke="#282828" stroke-width="12.5" fill="none" opacity="0.5" stroke-linecap="round"/><path d="M41.8 372.9 L43.1 375.2 L42.4 377.5 L42.7 379.8 L43.8 382.1 L44.4 384.3 L44.8 386.5 L45.1 388.7 L45.4 390.9 L45.6 393.1 L46.1 395.3 L45.5 397.8 L46.2 400.2 L45.1 402.6 L45.5 405.1 L46.5 407.6 L46.0 410.0" stroke="#282828" stroke-width="7.5" fill="none" opacity="0.5" stroke-linecap="round"/><path d="M54.6 375.6 L54.8 378.2 L55.3 380.8 L55.0 383.5 L54.6 386.1 L55.9 388.7 L54.8 391.0 L55.6 393.2 L54.9 395.5 L54.6 397.7 L55.1 400.0 L54.0 402.2 L54.0 404.5" stroke="#282828" stroke-width="6.9" fill="none" opacity="0.5" stroke-linecap="round"/><path d="M28.2 323.0 L27.7 325.6 L28.9 328.2 L28.5 330.9 L29.1 333.5" stroke="#282828" stroke-width="7.8" fill="none" opacity="0.5" stroke-linecap="round"/><path d="M96.6 342.7 L96.3 344.9 L97.2 347.1 L97.6 349.3 L96.8 351.5 L97.3 353.6 L98.5 355.8 L98.0 358.0 L97.8 360.2 L98.7 362.4" stroke="#282828" stroke-width="9.4" fill="none" opacity="0.5" stroke-linecap="round"/></g>
<g filter="url(#bl06)"><path d="M35.9 323.0 L36.7 325.2 L37.1 327.4 L38.1 329.6 L38.2 331.7 L38.5 333.9 L38.7 336.1 L38.2 338.3 L39.4 340.5 L39.0 342.7 L39.4 344.9 L38.9 347.1 L39.5 349.3 L40.4 351.9 L39.7 354.4 L40.4 357.0" stroke="#f0f0f0" stroke-width="1.5" fill="none" opacity="0.35"/><path d="M53.1 330.0 L53.0 332.4 L52.6 334.8 L52.3 337.2 L51.8 339.5 L50.9 341.9 L50.2 344.3 L50.2 346.7 L50.0 349.3 L50.2 351.9 L50.1 354.6 L50.1 357.2 L48.2 358.9 L46.6 360.6 L45.4 362.3 L44.2 364.0 L41.9 365.7 L39.2 367.3 L37.6 369.0 L38.1 371.2 L37.7 373.4 L36.3 375.6 L35.8 377.7 L35.1 379.9 L34.8 382.1 L34.8 384.5 L36.2 386.9 L36.3 389.4 L35.6 391.8 L35.2 394.2 L36.6 396.6 L36.1 398.8 L36.4 401.0 L35.4 403.2 L36.1 405.4 L35.9 407.6 L35.7 409.8 L35.3 412.0" stroke="#f0f0f0" stroke-width="1.5" fill="none" opacity="0.35"/><path d="M71.6 323.0 L71.4 325.3 L70.9 327.5 L71.4 329.8 L70.0 332.0 L70.3 334.3 L70.0 336.5 L70.0 338.8 L70.0 341.4 L68.4 344.1 L68.4 346.7 L68.0 349.3 L67.6 351.9 L67.7 354.5 L67.5 357.2 L67.2 359.8 L66.7 362.4 L66.8 364.6 L67.9 366.8 L67.8 369.0 L67.8 371.2 L67.2 373.4 L67.9 375.6 L68.6 378.2 L68.1 380.8 L68.7 383.5 L69.0 386.1 L68.8 388.7 L69.7 391.3 L69.6 393.9 L68.7 396.6 L68.4 399.2 L68.4 401.8 L69.1 404.0 L68.4 406.3 L69.2 408.5 L69.5 410.8 L68.9 413.0" stroke="#f0f0f0" stroke-width="1.5" fill="none" opacity="0.35"/><path d="M71.6 324.0 L72.1 326.5 L71.7 329.0 L71.2 331.5 L70.7 334.0" stroke="#f0f0f0" stroke-width="1.5" fill="none" opacity="0.35"/><path d="M85.2 338.8 L85.8 340.9 L86.6 343.0 L88.8 345.1 L88.8 347.2 L90.9 349.3 L91.5 351.4 L91.7 353.5 L92.6 355.6 L93.1 357.7 L93.8 359.8 L95.3 362.1 L95.0 364.4 L95.8 366.7 L97.6 369.0 L97.0 371.6 L97.6 374.2 L97.9 376.9 L98.2 379.5 L98.7 382.1 L99.0 384.4 L98.6 386.7 L99.0 389.0 L99.5 391.3" stroke="#f0f0f0" stroke-width="1.5" fill="none" opacity="0.35"/><path d="M22.4 353.2 L22.6 355.5 L22.3 357.8 L22.4 360.1 L22.9 362.4 L23.1 364.9 L22.0 367.4 L21.4 370.0 L21.2 372.5 L21.4 375.0" stroke="#f0f0f0" stroke-width="1.5" fill="none" opacity="0.35"/><path d="M45.2 372.9 L46.4 375.2 L45.7 377.5 L46.0 379.8 L47.2 382.1 L47.7 384.3 L48.2 386.5 L48.4 388.7 L48.8 390.9 L49.0 393.1 L49.5 395.3 L48.9 397.8 L49.6 400.2 L48.5 402.6 L48.8 405.1 L49.9 407.6 L49.4 410.0" stroke="#f0f0f0" stroke-width="1.5" fill="none" opacity="0.35"/><path d="M57.8 375.6 L58.1 378.2 L58.5 380.8 L58.2 383.5 L57.9 386.1 L59.1 388.7 L58.0 391.0 L58.8 393.2 L58.1 395.5 L57.9 397.7 L58.3 400.0 L57.2 402.2 L57.2 404.5" stroke="#f0f0f0" stroke-width="1.5" fill="none" opacity="0.35"/><path d="M31.6 323.0 L31.2 325.6 L32.3 328.2 L31.9 330.9 L32.5 333.5" stroke="#f0f0f0" stroke-width="1.5" fill="none" opacity="0.35"/><path d="M100.4 342.7 L100.0 344.9 L100.9 347.1 L101.4 349.3 L100.6 351.5 L101.1 353.6 L102.3 355.8 L101.8 358.0 L101.6 360.2 L102.5 362.4" stroke="#f0f0f0" stroke-width="1.5" fill="none" opacity="0.35"/><path d="M31.2 323.0 L32.0 325.2 L32.4 327.4 L33.4 329.6 L33.5 331.7 L33.8 333.9 L34.0 336.1 L33.4 338.3 L34.7 340.5 L34.3 342.7 L34.7 344.9 L34.2 347.1 L34.7 349.3 L35.7 351.9 L34.9 354.4 L35.7 357.0" stroke="#1e1e1e" stroke-width="5.9" fill="none" opacity="0.85" stroke-linecap="round" stroke-linejoin="round"/><path d="M49.5 330.0 L49.4 332.4 L48.9 334.8 L48.7 337.2 L48.2 339.5 L47.3 341.9 L46.6 344.3 L46.6 346.7 L46.4 349.3 L46.6 351.9 L46.4 354.6 L46.5 357.2 L44.6 358.9 L42.9 360.6 L41.8 362.3 L40.6 364.0 L38.3 365.7 L35.5 367.3 L34.0 369.0 L34.5 371.2 L34.1 373.4 L32.7 375.6 L32.2 377.7 L31.4 379.9 L31.2 382.1 L31.2 384.5 L32.6 386.9 L32.7 389.4 L31.9 391.8 L31.6 394.2 L33.0 396.6 L32.5 398.8 L32.8 401.0 L31.8 403.2 L32.5 405.4 L32.3 407.6 L32.0 409.8 L31.7 412.0" stroke="#1e1e1e" stroke-width="3.6" fill="none" opacity="0.75" stroke-linecap="round" stroke-linejoin="round"/><path d="M67.4 323.0 L67.3 325.3 L66.8 327.5 L67.3 329.8 L65.9 332.0 L66.1 334.3 L65.9 336.5 L65.9 338.8 L65.9 341.4 L64.3 344.1 L64.3 346.7 L63.8 349.3 L63.5 351.9 L63.5 354.5 L63.4 357.2 L63.0 359.8 L62.6 362.4 L62.6 364.6 L63.7 366.8 L63.7 369.0 L63.7 371.2 L63.1 373.4 L63.7 375.6 L64.4 378.2 L64.0 380.8 L64.6 383.5 L64.8 386.1 L64.7 388.7 L65.6 391.3 L65.5 393.9 L64.5 396.6 L64.2 399.2 L64.3 401.8 L64.9 404.0 L64.3 406.3 L65.1 408.5 L65.3 410.8 L64.8 413.0" stroke="#1e1e1e" stroke-width="4.7" fill="none" opacity="0.85" stroke-linecap="round" stroke-linejoin="round"/><path d="M65.9 324.0 L66.4 326.5 L66.0 329.0 L65.5 331.5 L65.0 334.0" stroke="#1e1e1e" stroke-width="7.8" fill="none" opacity="0.7" stroke-linecap="round" stroke-linejoin="round"/><path d="M80.5 338.8 L81.1 340.9 L81.9 343.0 L84.1 345.1 L84.1 347.2 L86.2 349.3 L86.8 351.4 L87.0 353.5 L87.9 355.6 L88.4 357.7 L89.1 359.8 L90.6 362.1 L90.3 364.4 L91.1 366.7 L92.9 369.0 L92.3 371.6 L92.8 374.2 L93.1 376.9 L93.5 379.5 L94.0 382.1 L94.2 384.4 L93.9 386.7 L94.3 389.0 L94.8 391.3" stroke="#1e1e1e" stroke-width="5.9" fill="none" opacity="0.55" stroke-linecap="round" stroke-linejoin="round"/><path d="M18.0 353.2 L18.2 355.5 L17.9 357.8 L18.0 360.1 L18.5 362.4 L18.7 364.9 L17.6 367.4 L17.0 370.0 L16.8 372.5 L17.0 375.0" stroke="#1e1e1e" stroke-width="5.2" fill="none" opacity="0.6" stroke-linecap="round" stroke-linejoin="round"/><path d="M41.8 372.9 L43.1 375.2 L42.4 377.5 L42.7 379.8 L43.8 382.1 L44.4 384.3 L44.8 386.5 L45.1 388.7 L45.4 390.9 L45.6 393.1 L46.1 395.3 L45.5 397.8 L46.2 400.2 L45.1 402.6 L45.5 405.1 L46.5 407.6 L46.0 410.0" stroke="#1e1e1e" stroke-width="3.1" fill="none" opacity="0.6" stroke-linecap="round" stroke-linejoin="round"/><path d="M54.6 375.6 L54.8 378.2 L55.3 380.8 L55.0 383.5 L54.6 386.1 L55.9 388.7 L54.8 391.0 L55.6 393.2 L54.9 395.5 L54.6 397.7 L55.1 400.0 L54.0 402.2 L54.0 404.5" stroke="#1e1e1e" stroke-width="2.9" fill="none" opacity="0.55" stroke-linecap="round" stroke-linejoin="round"/><path d="M28.2 323.0 L27.7 325.6 L28.9 328.2 L28.5 330.9 L29.1 333.5" stroke="#1e1e1e" stroke-width="3.2" fill="none" opacity="0.6" stroke-linecap="round" stroke-linejoin="round"/><path d="M96.6 342.7 L96.3 344.9 L97.2 347.1 L97.6 349.3 L96.8 351.5 L97.3 353.6 L98.5 355.8 L98.0 358.0 L97.8 360.2 L98.7 362.4" stroke="#1e1e1e" stroke-width="3.9" fill="none" opacity="0.5" stroke-linecap="round" stroke-linejoin="round"/></g>
</g>
<clipPath id="cE2"><rect x="107.9" y="323.8" width="89.6" height="88.9"/></clipPath>
<g clip-path="url(#cE2)">
<rect x="107.9" y="323.8" width="89.6" height="88.9" filter="url(#tE2)"/>
<g filter="url(#bl18)"><path d="M125.9 323.0 L126.4 325.2 L126.4 327.5 L126.7 329.7 L126.9 332.0 L127.9 334.2 L127.4 336.5 L127.5 338.7 L127.9 341.0 L128.7 343.2 L129.5 345.5 L129.4 347.7 L129.1 350.0 L129.8 352.2 L130.0 354.5 L130.7 356.8 L131.2 359.0 L132.4 361.3 L132.3 363.5 L133.1 365.8 L132.6 368.2 L131.2 370.5 L130.7 372.9 L131.4 375.3 L129.6 377.7 L129.7 380.0 L129.7 382.4 L128.7 384.7 L129.2 387.0 L129.1 389.3 L128.8 391.6 L127.8 394.0 L127.6 396.3 L127.5 398.6 L126.8 400.9 L126.5 403.2 L126.8 405.6 L126.7 408.1 L127.4 410.6 L127.0 413.0" stroke="#282828" stroke-width="6.0" fill="none" opacity="0.32" stroke-linecap="round"/><path d="M142.2 323.0 L141.7 325.2 L142.0 327.5 L141.7 329.7 L141.5 332.0 L142.3 334.2 L141.7 336.5 L141.7 338.7 L141.5 341.0 L142.1 343.2 L142.3 345.5 L142.4 347.7 L142.8 350.0 L142.3 352.2 L143.2 354.5 L143.2 356.8 L143.4 359.0 L144.3 361.3 L145.4 363.5 L145.0 365.8 L145.7 368.1 L146.5 370.4 L146.0 372.7 L146.4 375.0 L148.1 377.3 L148.5 379.6 L148.0 382.0 L148.0 384.4 L147.9 386.8 L147.5 389.1 L147.6 391.5 L147.3 393.9 L147.3 396.3 L147.1 398.7 L146.1 401.1 L146.7 403.5 L146.2 405.8 L147.2 408.2 L146.3 410.6 L147.0 413.0" stroke="#282828" stroke-width="5.6" fill="none" opacity="0.32" stroke-linecap="round"/><path d="M160.8 323.0 L161.4 325.2 L160.9 327.4 L161.4 329.7 L162.6 331.9 L163.7 334.1 L164.2 336.4 L164.5 338.6 L165.0 340.8 L165.3 343.1 L166.9 345.4 L167.5 347.8 L168.3 350.1 L169.5 352.4 L169.5 354.7 L169.7 357.0 L169.7 359.3 L169.1 361.6 L169.6 363.9 L169.7 366.3 L168.5 368.6 L168.3 370.9 L168.6 373.2 L168.2 375.5 L167.6 377.8 L167.4 380.1 L166.7 382.4 L167.0 384.7 L165.7 387.0 L166.4 389.3 L165.9 391.7 L166.5 394.1 L166.8 396.5 L167.3 398.8 L167.3 401.2 L167.4 403.6 L168.6 406.0 L167.4 408.3 L168.7 410.7 L168.0 413.0" stroke="#282828" stroke-width="6.5" fill="none" opacity="0.32" stroke-linecap="round"/><path d="M182.4 330.0 L182.7 332.2 L183.0 334.5 L182.8 336.7 L183.5 339.0 L182.9 341.2 L183.8 343.5 L183.2 345.7 L183.7 348.0 L183.9 350.2 L183.5 352.5 L184.7 354.7 L184.5 357.0 L183.8 359.3 L184.3 361.6 L183.0 363.9 L182.7 366.3 L183.6 368.6 L182.8 370.9 L182.8 373.2 L182.2 375.5 L183.3 377.8 L183.5 380.1 L184.2 382.4 L184.2 384.7 L185.6 387.0 L186.0 389.3 L185.8 392.0 L185.1 394.6 L185.6 397.3 L186.0 400.0" stroke="#282828" stroke-width="5.6" fill="none" opacity="0.32" stroke-linecap="round"/><path d="M110.6 340.0 L110.4 342.2 L110.7 344.4 L110.9 346.7 L110.8 348.9 L111.1 351.1 L111.9 353.3 L111.0 355.6 L111.9 357.8 L111.6 360.0 L112.8 362.2 L112.0 364.5 L112.3 366.7 L112.5 369.0 L112.5 371.2 L113.3 373.4 L112.9 375.7 L112.7 377.9 L113.1 380.2 L112.8 382.4 L113.8 384.6 L113.0 386.8 L112.5 389.0 L113.0 391.2 L112.7 393.4 L112.8 395.6 L112.5 397.8 L112.0 400.0" stroke="#282828" stroke-width="6.5" fill="none" opacity="0.32" stroke-linecap="round"/></g>
<g filter="url(#bl06)"><path d="M129.0 323.0 L129.4 325.2 L129.5 327.5 L129.8 329.7 L129.9 332.0 L130.9 334.2 L130.4 336.5 L130.5 338.7 L130.9 341.0 L131.8 343.2 L132.6 345.5 L132.4 347.7 L132.1 350.0 L132.9 352.2 L133.1 354.5 L133.8 356.8 L134.2 359.0 L135.5 361.3 L135.3 363.5 L136.2 365.8 L135.7 368.2 L134.3 370.5 L133.8 372.9 L134.4 375.3 L132.6 377.7 L132.8 380.0 L132.8 382.4 L131.8 384.7 L132.3 387.0 L132.2 389.3 L131.9 391.6 L130.9 394.0 L130.6 396.3 L130.5 398.6 L129.8 400.9 L129.6 403.2 L129.8 405.6 L129.7 408.1 L130.4 410.6 L130.1 413.0" stroke="#f0f0f0" stroke-width="1.5" fill="none" opacity="0.3"/><path d="M145.1 323.0 L144.7 325.2 L145.0 327.5 L144.7 329.7 L144.5 332.0 L145.2 334.2 L144.7 336.5 L144.7 338.7 L144.5 341.0 L145.0 343.2 L145.2 345.5 L145.4 347.7 L145.8 350.0 L145.2 352.2 L146.2 354.5 L146.2 356.8 L146.4 359.0 L147.3 361.3 L148.4 363.5 L148.0 365.8 L148.7 368.1 L149.5 370.4 L149.0 372.7 L149.3 375.0 L151.0 377.3 L151.5 379.6 L150.9 382.0 L151.0 384.4 L150.9 386.8 L150.5 389.1 L150.6 391.5 L150.2 393.9 L150.2 396.3 L150.1 398.7 L149.0 401.1 L149.7 403.5 L149.2 405.8 L150.2 408.2 L149.3 410.6 L150.0 413.0" stroke="#f0f0f0" stroke-width="1.5" fill="none" opacity="0.3"/><path d="M164.0 323.0 L164.5 325.2 L164.0 327.4 L164.6 329.7 L165.7 331.9 L166.9 334.1 L167.4 336.4 L167.6 338.6 L168.2 340.8 L168.4 343.1 L170.0 345.4 L170.6 347.8 L171.4 350.1 L172.7 352.4 L172.7 354.7 L172.9 357.0 L172.9 359.3 L172.2 361.6 L172.7 363.9 L172.9 366.3 L171.6 368.6 L171.4 370.9 L171.7 373.2 L171.4 375.5 L170.7 377.8 L170.5 380.1 L169.9 382.4 L170.2 384.7 L168.8 387.0 L169.6 389.3 L169.1 391.7 L169.6 394.1 L170.0 396.5 L170.5 398.8 L170.4 401.2 L170.5 403.6 L171.8 406.0 L170.5 408.3 L171.9 410.7 L171.2 413.0" stroke="#f0f0f0" stroke-width="1.5" fill="none" opacity="0.3"/><path d="M185.4 330.0 L185.6 332.2 L186.0 334.5 L185.8 336.7 L186.5 339.0 L185.9 341.2 L186.7 343.5 L186.2 345.7 L186.6 348.0 L186.9 350.2 L186.5 352.5 L187.7 354.7 L187.5 357.0 L186.8 359.3 L187.2 361.6 L186.0 363.9 L185.7 366.3 L186.5 368.6 L185.8 370.9 L185.7 373.2 L185.2 375.5 L186.3 377.8 L186.4 380.1 L187.2 382.4 L187.2 384.7 L188.6 387.0 L189.0 389.3 L188.8 392.0 L188.1 394.6 L188.6 397.3 L189.0 400.0" stroke="#f0f0f0" stroke-width="1.5" fill="none" opacity="0.3"/><path d="M113.8 340.0 L113.5 342.2 L113.9 344.4 L114.1 346.7 L114.0 348.9 L114.2 351.1 L115.1 353.3 L114.2 355.6 L115.1 357.8 L114.7 360.0 L115.9 362.2 L115.1 364.5 L115.4 366.7 L115.6 369.0 L115.6 371.2 L116.5 373.4 L116.1 375.7 L115.9 377.9 L116.2 380.2 L116.0 382.4 L117.0 384.6 L116.2 386.8 L115.6 389.0 L116.2 391.2 L115.8 393.4 L116.0 395.6 L115.7 397.8 L115.1 400.0" stroke="#f0f0f0" stroke-width="1.5" fill="none" opacity="0.3"/><path d="M125.9 323.0 L126.4 325.2 L126.4 327.5 L126.7 329.7 L126.9 332.0 L127.9 334.2 L127.4 336.5 L127.5 338.7 L127.9 341.0 L128.7 343.2 L129.5 345.5 L129.4 347.7 L129.1 350.0 L129.8 352.2 L130.0 354.5 L130.7 356.8 L131.2 359.0 L132.4 361.3 L132.3 363.5 L133.1 365.8 L132.6 368.2 L131.2 370.5 L130.7 372.9 L131.4 375.3 L129.6 377.7 L129.7 380.0 L129.7 382.4 L128.7 384.7 L129.2 387.0 L129.1 389.3 L128.8 391.6 L127.8 394.0 L127.6 396.3 L127.5 398.6 L126.8 400.9 L126.5 403.2 L126.8 405.6 L126.7 408.1 L127.4 410.6 L127.0 413.0" stroke="#1e1e1e" stroke-width="2.5" fill="none" opacity="0.7" stroke-linecap="round" stroke-linejoin="round"/><path d="M142.2 323.0 L141.7 325.2 L142.0 327.5 L141.7 329.7 L141.5 332.0 L142.3 334.2 L141.7 336.5 L141.7 338.7 L141.5 341.0 L142.1 343.2 L142.3 345.5 L142.4 347.7 L142.8 350.0 L142.3 352.2 L143.2 354.5 L143.2 356.8 L143.4 359.0 L144.3 361.3 L145.4 363.5 L145.0 365.8 L145.7 368.1 L146.5 370.4 L146.0 372.7 L146.4 375.0 L148.1 377.3 L148.5 379.6 L148.0 382.0 L148.0 384.4 L147.9 386.8 L147.5 389.1 L147.6 391.5 L147.3 393.9 L147.3 396.3 L147.1 398.7 L146.1 401.1 L146.7 403.5 L146.2 405.8 L147.2 408.2 L146.3 410.6 L147.0 413.0" stroke="#1e1e1e" stroke-width="2.3" fill="none" opacity="0.65" stroke-linecap="round" stroke-linejoin="round"/><path d="M160.8 323.0 L161.4 325.2 L160.9 327.4 L161.4 329.7 L162.6 331.9 L163.7 334.1 L164.2 336.4 L164.5 338.6 L165.0 340.8 L165.3 343.1 L166.9 345.4 L167.5 347.8 L168.3 350.1 L169.5 352.4 L169.5 354.7 L169.7 357.0 L169.7 359.3 L169.1 361.6 L169.6 363.9 L169.7 366.3 L168.5 368.6 L168.3 370.9 L168.6 373.2 L168.2 375.5 L167.6 377.8 L167.4 380.1 L166.7 382.4 L167.0 384.7 L165.7 387.0 L166.4 389.3 L165.9 391.7 L166.5 394.1 L166.8 396.5 L167.3 398.8 L167.3 401.2 L167.4 403.6 L168.6 406.0 L167.4 408.3 L168.7 410.7 L168.0 413.0" stroke="#1e1e1e" stroke-width="2.7" fill="none" opacity="0.7" stroke-linecap="round" stroke-linejoin="round"/><path d="M182.4 330.0 L182.7 332.2 L183.0 334.5 L182.8 336.7 L183.5 339.0 L182.9 341.2 L183.8 343.5 L183.2 345.7 L183.7 348.0 L183.9 350.2 L183.5 352.5 L184.7 354.7 L184.5 357.0 L183.8 359.3 L184.3 361.6 L183.0 363.9 L182.7 366.3 L183.6 368.6 L182.8 370.9 L182.8 373.2 L182.2 375.5 L183.3 377.8 L183.5 380.1 L184.2 382.4 L184.2 384.7 L185.6 387.0 L186.0 389.3 L185.8 392.0 L185.1 394.6 L185.6 397.3 L186.0 400.0" stroke="#1e1e1e" stroke-width="2.3" fill="none" opacity="0.6" stroke-linecap="round" stroke-linejoin="round"/><path d="M110.6 340.0 L110.4 342.2 L110.7 344.4 L110.9 346.7 L110.8 348.9 L111.1 351.1 L111.9 353.3 L111.0 355.6 L111.9 357.8 L111.6 360.0 L112.8 362.2 L112.0 364.5 L112.3 366.7 L112.5 369.0 L112.5 371.2 L113.3 373.4 L112.9 375.7 L112.7 377.9 L113.1 380.2 L112.8 382.4 L113.8 384.6 L113.0 386.8 L112.5 389.0 L113.0 391.2 L112.7 393.4 L112.8 395.6 L112.5 397.8 L112.0 400.0" stroke="#1e1e1e" stroke-width="2.7" fill="none" opacity="0.5" stroke-linecap="round" stroke-linejoin="round"/></g>
</g>
<clipPath id="cE3c"><rect x="202.9" y="323.8" width="89.6" height="88.9"/></clipPath>
<g clip-path="url(#cE3c)"><rect x="202.9" y="323.8" width="89.6" height="88.9" filter="url(#tE3)"/>
<path d="M214 322 Q222 345 239 366 T262 392 L262 413" stroke="#6a6a6a" stroke-width="13" fill="none" opacity="0.45" filter="url(#bl30)"/>
<path d="M203 395 Q215 385 228 392 L232 413 L203 413 Z" fill="#707070" opacity="0.3" filter="url(#bl30)"/>
<ellipse cx="278" cy="362" rx="10" ry="7" fill="#707070" opacity="0.3" filter="url(#bl30)"/>
<path d="M230 356 L236 362 L241 366 L246 370 L250 376 L255 381 L260 386" stroke="#2a2a2a" stroke-width="1.5" fill="none" opacity="0.7" filter="url(#bl06)"/>
</g>
<clipPath id="cE4"><rect x="297.3" y="323.8" width="89.6" height="88.9"/></clipPath>
<g clip-path="url(#cE4)"><rect x="297.3" y="323.8" width="89.6" height="88.9" filter="url(#tE4)"/>
<ellipse cx="372" cy="356" rx="14" ry="22" fill="#fff" opacity="0.22" filter="url(#bl30)"/>
<ellipse cx="305" cy="340" rx="10" ry="12" fill="#fff" opacity="0.18" filter="url(#bl30)"/>
<g filter="url(#bl10)" stroke="#404040" fill="none" opacity="0.45"><path d="M305 366 Q318 350 330 345 Q340 338 350 330" stroke-width="2.5"/><path d="M315 340 Q325 330 338 326" stroke-width="2"/><path d="M335 392 Q350 380 362 372" stroke-width="2"/></g>
<path d="M329 367 Q333 364 338 368 Q336 375 331 376 Z" fill="#3a3a3a" opacity="0.7" filter="url(#bl06)"/>
<path d="M340 368 L343 364 L346 367 L349 368 L348 374 L345 377 L341 376 Z" fill="#141414" filter="url(#bl06)"/>
</g>
<rect x="12.95" y="324.25" width="88.69999999999999" height="88.0" fill="none" stroke="#333" stroke-width="0.9"/>
<rect x="68.5" y="394.1" width="33.6" height="18.6" fill="#d4d4d4" opacity="0.82"/>
<rect x="75.4" y="398.0" width="20.8" height="2.4" fill="#000"/>
<text x="85.60" y="410.40" font-size="8.7" fill="#000" text-anchor="middle"  stroke="#000" stroke-width="0.14">200 µm</text>
<text x="59.20" y="428.50" font-size="11.5" fill="#111" text-anchor="middle"  stroke="#111" stroke-width="0.14">Relaxed State</text>
<rect x="108.35000000000001" y="324.25" width="88.69999999999999" height="88.0" fill="none" stroke="#333" stroke-width="0.9"/>
<rect x="163.9" y="394.1" width="33.6" height="18.6" fill="#d4d4d4" opacity="0.82"/>
<rect x="170.8" y="398.0" width="20.8" height="2.4" fill="#000"/>
<text x="181.00" y="410.40" font-size="8.7" fill="#000" text-anchor="middle"  stroke="#000" stroke-width="0.14">200 µm</text>
<text x="151.80" y="428.50" font-size="11.5" fill="#111" text-anchor="middle"  stroke="#111" stroke-width="0.14">300% Elongation</text>
<rect x="203.35" y="324.25" width="88.69999999999999" height="88.0" fill="none" stroke="#333" stroke-width="0.9"/>
<rect x="258.9" y="394.1" width="33.6" height="18.6" fill="#d4d4d4" opacity="0.82"/>
<rect x="265.8" y="398.0" width="20.8" height="2.4" fill="#000"/>
<text x="276.00" y="410.40" font-size="8.7" fill="#000" text-anchor="middle"  stroke="#000" stroke-width="0.14">200 µm</text>
<text x="247.00" y="428.50" font-size="11.5" fill="#111" text-anchor="middle"  stroke="#111" stroke-width="0.14">700% Elongation</text>
<rect x="297.75" y="324.25" width="88.69999999999999" height="88.0" fill="none" stroke="#333" stroke-width="0.9"/>
<rect x="353.3" y="394.1" width="33.6" height="18.6" fill="#d4d4d4" opacity="0.82"/>
<rect x="360.2" y="398.0" width="20.8" height="2.4" fill="#000"/>
<text x="370.40" y="410.40" font-size="8.7" fill="#000" text-anchor="middle"  stroke="#000" stroke-width="0.14">200 µm</text>
<text x="343.80" y="428.50" font-size="11.5" fill="#111" text-anchor="middle"  stroke="#111" stroke-width="0.14">900% Elongation</text>
<text x="401.00" y="333.00" font-size="13.6" fill="#000" text-anchor="start"  stroke="#000" stroke-width="0.14">f</text>
<text x="435.90" y="420.80" font-size="9.1" fill="#222" text-anchor="end"  stroke="#222" stroke-width="0.14">0.00</text>
<text x="435.90" y="374.20" font-size="9.1" fill="#222" text-anchor="end"  stroke="#222" stroke-width="0.14">0.25</text>
<text x="435.90" y="327.60" font-size="9.1" fill="#222" text-anchor="end"  stroke="#222" stroke-width="0.14">0.50</text>
<text x="440.50" y="431.20" font-size="8.6" fill="#222" text-anchor="middle"  stroke="#222" stroke-width="0.14">0</text>
<text x="557.35" y="431.20" font-size="8.6" fill="#222" text-anchor="middle"  stroke="#222" stroke-width="0.14">40k</text>
<text x="674.50" y="431.20" font-size="8.6" fill="#222" text-anchor="middle"  stroke="#222" stroke-width="0.14">80k</text>
<path d="M437.7 417.6 H440.2 M437.7 371.0 H440.2 M437.7 324.4 H440.2 M438.7 394.3 H440.2 M438.7 347.7 H440.2 M440.2 418.20000000000005 V420.7 M557.4 418.20000000000005 V420.7 M674.5 418.20000000000005 V420.7" stroke="#555" stroke-width="0.9" fill="none"/>
<svg x="440.2" y="324.4" width="234.3" height="93.80000000000007" viewBox="440.2 324.4 234.3 93.80000000000007" overflow="hidden">
<polyline points="440.2,417.5 468.0,417.4 472.0,416.2 478.0,415.8 481.0,417.1 484.0,415.2 489.0,415.0 492.0,417.2 500.0,417.2 503.0,415.6 506.0,417.3 528.0,417.4 532.0,415.9 536.0,417.4 576.0,417.4 580.0,414.8 585.0,413.6 589.0,415.4 593.0,417.4 614.0,417.4 618.0,415.8 623.0,415.9 626.0,417.4 654.0,417.4 658.0,415.6 663.0,415.4 666.0,417.4 674.5,417.5" fill="none" stroke="#c8c8c8" stroke-width="1.6" opacity="0.7"/>
<polyline points="440.2,416.9 468.0,416.8 472.0,415.6 478.0,415.2 481.0,416.5 484.0,414.6 489.0,414.4 492.0,416.6 500.0,416.6 503.0,415.0 506.0,416.7 528.0,416.8 532.0,415.3 536.0,416.8 576.0,416.8 580.0,414.2 585.0,413.0 589.0,414.8 593.0,416.8 614.0,416.8 618.0,415.2 623.0,415.3 626.0,416.8 654.0,416.8 658.0,415.0 663.0,414.8 666.0,416.8 674.5,416.9" fill="none" stroke="#d95f0e" stroke-width="1.7" stroke-linejoin="round"/>
<path d="M440.2 413.6 L441.4 413.7 L442.7 413.7 L443.9 413.8 L445.1 413.6 L446.4 413.7 L447.6 412.8 L448.8 413.2 L450.1 413.6 L451.3 413.3 L452.5 413.5 L453.8 412.7 L455.0 413.0 L456.2 412.6 L457.5 412.8 L458.8 412.8 L460.0 412.1 L462.0 411.3 L463.5 411.6 L465.0 412.4 L466.2 412.2 L467.5 411.6 L468.8 412.2 L470.0 411.5 L471.2 411.9 L472.5 411.4 L473.8 411.2 L475.0 412.0 L476.2 411.3 L477.5 411.3 L478.8 412.0 L480.0 411.9 L481.3 411.3 L482.7 411.9 L484.0 411.4 L486.0 410.0 L487.3 409.5 L488.5 410.2 L489.8 409.9 L491.1 410.2 L492.4 410.1 L493.6 409.4 L494.9 409.5 L496.2 409.2 L497.5 409.2 L498.7 409.1 L500.0 409.3 L501.2 409.5 L502.5 408.8 L503.8 409.3 L505.0 408.8 L506.2 408.7 L507.5 409.1 L508.8 408.6 L510.0 408.3 L511.2 408.4 L512.5 408.5 L513.8 407.7 L515.0 408.5 L516.2 407.3 L517.5 407.7 L518.8 407.6 L520.0 406.5 L521.2 407.3 L522.5 406.9 L523.8 407.2 L525.0 406.6 L526.2 406.7 L527.5 406.8 L528.8 407.6 L530.0 406.9 L531.2 407.4 L532.5 407.5 L533.8 407.5 L535.0 406.8 L536.2 406.8 L537.5 406.9 L538.8 407.1 L540.0 406.3 L541.2 406.9 L542.5 406.9 L543.8 406.9 L545.0 406.0 L546.2 406.9 L547.5 406.0 L548.8 406.2 L550.0 406.4 L551.2 406.7 L552.5 406.1 L553.8 406.6 L555.0 406.2 L556.2 405.9 L557.5 405.9 L558.8 405.7 L560.0 405.6 L561.5 402.6 L562.9 403.1 L564.2 403.2 L565.6 402.3 L567.0 402.0 L568.0 401.0 L569.2 400.4 L570.4 400.2 L571.6 399.9 L572.8 400.2 L574.0 400.3 L575.0 398.0 L576.2 397.9 L577.5 397.5 L578.8 398.3 L580.0 397.4 L581.2 397.8 L582.5 398.2 L583.8 397.4 L585.0 398.0 L586.2 398.2 L587.5 397.8 L588.8 397.9 L590.0 397.2 L591.2 397.5 L592.5 397.2 L593.8 397.9 L595.0 397.3 L596.5 394.5 L597.7 395.0 L599.0 394.8 L600.2 394.9 L601.4 394.3 L602.7 394.4 L603.9 394.6 L605.2 394.3 L606.4 394.1 L607.6 394.2 L608.9 393.9 L610.1 394.1 L611.3 394.7 L612.6 394.6 L613.8 394.3 L615.1 394.1 L616.3 393.9 L617.5 393.6 L618.8 393.8 L620.0 394.3 L621.2 394.3 L622.5 393.7 L623.8 394.1 L625.0 394.0 L626.2 393.9 L627.5 393.8 L628.8 393.8 L630.0 393.4 L631.2 393.6 L632.5 393.2 L633.8 393.3 L635.0 393.5 L636.2 393.4 L637.5 392.9 L638.8 393.5 L640.0 393.1 L641.2 393.0 L642.5 392.3 L643.8 392.7 L645.0 392.3 L646.2 392.5 L647.5 392.2 L648.8 392.4 L650.0 392.1 L651.2 392.1 L652.5 391.5 L653.8 391.6 L655.0 391.5 L656.2 391.4 L657.5 390.7 L658.8 391.0 L660.0 390.9 L661.3 390.8 L662.7 391.1 L664.0 391.2 L665.3 390.9 L666.7 390.9 L668.0 390.7 L669.3 391.6 L670.6 392.0 L671.9 391.9 L673.2 392.4 L674.5 392.5 L674.5 400.2 L668.0 399.2 L660.0 397.7 L650.0 399.3 L640.0 400.6 L620.0 401.7 L597.0 400.9 L595.0 402.6 L576.0 403.3 L575.0 403.9 L569.0 405.7 L568.0 405.5 L562.0 407.2 L560.0 409.4 L545.0 410.2 L530.0 410.5 L520.0 410.7 L510.0 412.1 L500.0 412.5 L487.0 413.0 L486.0 414.2 L480.0 414.1 L465.0 414.6 L455.0 415.8 L440.2 416.5 Z" fill="#1f74b4"/>
</svg>
<rect x="440.2" y="324.4" width="234.3" height="93.80000000000007" fill="none" stroke="#8a8a8a" stroke-width="1"/>
<text x="550.80" y="343.00" font-size="9.05" fill="#222" text-anchor="start"  stroke="#222" stroke-width="0.14">Under 400% Elongations</text>
<path d="M534.3 352.4 H549.3" stroke="#1f74b4" stroke-width="1.6"/><path d="M534.3 364.0 H549.3" stroke="#d95f0e" stroke-width="1.6"/>
<text x="551.2" y="355.6" font-size="9.02" fill="#222" stroke="#222" stroke-width="0.14">G<tspan font-size="6" dy="1.8">2</tspan><tspan dy="-1.8">–2D1D Gold Conductor</tspan></text>
<text x="551.2" y="367.2" font-size="9.02" fill="#222" stroke="#222" stroke-width="0.14">G<tspan font-size="6" dy="1.8">2</tspan><tspan dy="-1.8">–2D2D Gold Conductor</tspan></text>
<text transform="translate(413.3 370.4) rotate(-90)" font-size="10.6" fill="#111" text-anchor="middle" letter-spacing="0.75" stroke="#111" stroke-width="0.14"><tspan font-family="Liberation Serif" font-style="italic" font-size="11.1">ΔR/R</tspan><tspan font-family="Liberation Serif" font-style="italic" font-size="7.6" dy="2">0</tspan><tspan dy="-2"> (–)</tspan></text>
<text x="435.90" y="540.20" font-size="9.1" fill="#222" text-anchor="end"  stroke="#222" stroke-width="0.14">0.00</text>
<text x="435.90" y="493.85" font-size="9.1" fill="#222" text-anchor="end"  stroke="#222" stroke-width="0.14">0.25</text>
<text x="435.90" y="447.50" font-size="9.1" fill="#222" text-anchor="end"  stroke="#222" stroke-width="0.14">0.50</text>
<text x="440.50" y="550.60" font-size="8.6" fill="#222" text-anchor="middle"  stroke="#222" stroke-width="0.14">0</text>
<text x="557.35" y="550.60" font-size="8.6" fill="#222" text-anchor="middle"  stroke="#222" stroke-width="0.14">25k</text>
<text x="674.50" y="550.60" font-size="8.6" fill="#222" text-anchor="middle"  stroke="#222" stroke-width="0.14">50k</text>
<path d="M437.7 537.0 H440.2 M437.7 490.6 H440.2 M437.7 444.3 H440.2 M438.7 513.8 H440.2 M438.7 467.5 H440.2 M440.2 537.6 V540.1 M557.4 537.6 V540.1 M674.5 537.6 V540.1" stroke="#555" stroke-width="0.9" fill="none"/>
<svg x="440.2" y="444.3" width="234.3" height="93.30000000000001" viewBox="440.2 444.3 234.3 93.30000000000001" overflow="hidden">
<path d="M440.2 532.7 L441.5 532.6 L442.8 532.4 L444.1 532.9 L445.4 532.8 L446.7 533.1 L448.0 533.0 L449.3 532.5 L450.6 533.3 L451.9 532.0 L453.2 532.6 L454.4 532.3 L455.6 532.4 L456.9 531.9 L458.1 532.8 L459.3 532.0 L460.5 531.5 L461.7 532.2 L463.0 531.3 L464.2 531.9 L465.4 531.5 L466.6 531.7 L467.8 532.1 L469.1 531.8 L470.3 531.2 L471.5 531.6 L472.7 531.3 L473.9 530.9 L475.1 530.5 L476.4 531.0 L477.6 530.9 L478.8 531.4 L480.0 531.3 L481.2 530.7 L482.4 530.3 L483.6 531.0 L484.8 529.6 L486.1 529.7 L487.3 530.3 L488.5 530.2 L489.7 529.5 L491.0 530.0 L492.3 530.2 L493.5 529.4 L494.8 529.3 L496.1 528.9 L497.4 528.8 L498.7 529.6 L499.9 528.6 L501.2 529.3 L502.5 529.1 L503.7 528.3 L505.0 527.6 L506.2 528.3 L507.4 527.5 L508.6 527.3 L509.8 527.0 L511.0 527.9 L512.3 527.1 L513.5 526.7 L514.7 526.9 L515.9 526.3 L517.1 526.9 L518.4 526.4 L519.7 526.1 L520.9 526.6 L522.2 526.4 L523.5 525.1 L524.8 525.7 L526.1 525.1 L527.3 525.9 L528.6 525.5 L529.9 524.5 L531.1 524.5 L532.3 524.3 L533.5 525.3 L534.8 524.3 L536.0 524.6 L537.2 524.4 L538.4 524.5 L539.6 524.4 L540.9 524.5 L542.1 523.5 L543.3 524.3 L544.5 523.6 L545.7 523.5 L546.9 522.8 L548.1 522.3 L549.4 522.1 L550.6 521.6 L551.8 521.0 L553.2 521.4 L554.5 521.0 L555.9 520.1 L557.3 520.3 L558.6 520.4 L560.0 520.9 L561.2 520.8 L562.5 520.3 L563.8 519.5 L565.0 520.5 L566.2 519.9 L567.5 520.1 L568.8 520.2 L570.0 520.1 L571.2 519.8 L572.5 520.4 L573.8 519.6 L575.0 519.5 L576.2 520.1 L577.5 519.2 L578.8 519.3 L580.0 520.0 L581.2 518.8 L582.5 519.9 L583.8 519.6 L585.0 519.2 L586.2 519.0 L587.5 519.6 L588.8 519.8 L590.0 518.6 L591.2 519.1 L592.5 519.1 L593.8 519.0 L595.0 518.7 L596.2 518.4 L597.5 519.0 L598.8 519.3 L600.0 518.2 L601.2 518.4 L602.5 519.1 L603.8 519.1 L605.0 518.8 L606.2 517.9 L607.5 518.8 L608.8 519.1 L610.0 519.1 L611.2 518.6 L612.5 517.7 L613.8 518.7 L615.0 517.8 L616.2 518.4 L617.5 518.7 L618.8 518.3 L620.0 517.5 L621.2 517.7 L622.5 518.5 L623.8 517.4 L625.0 518.0 L626.2 517.7 L627.5 517.3 L628.8 518.0 L630.0 517.1 L631.2 517.2 L632.5 517.5 L633.8 517.1 L635.0 517.0 L636.2 517.7 L637.5 517.9 L638.8 518.1 L640.0 517.0 L641.2 517.3 L642.5 517.1 L643.8 517.4 L645.0 517.1 L646.2 517.6 L647.5 516.8 L648.8 516.2 L650.0 517.0 L651.2 516.2 L652.5 516.7 L653.8 516.5 L655.0 516.9 L656.2 516.4 L657.5 516.4 L658.8 515.8 L660.0 516.1 L661.2 515.6 L662.4 516.2 L663.6 515.8 L664.8 515.3 L666.0 515.3 L667.2 515.5 L668.5 515.9 L669.7 515.1 L670.9 515.8 L672.1 515.6 L673.3 514.8 L674.5 515.3 L674.5 529.2 L660.0 528.9 L640.0 529.5 L620.0 530.6 L600.0 530.6 L580.0 531.5 L560.0 531.2 L544.5 532.5 L526.2 534.4 L507.1 534.2 L506.2 536.5 L471.5 536.1 L440.2 537.1 Z" fill="#d95f0e"/>
<path d="M440.2 534.0 L446.0 532.7 L451.4 531.2 L454.2 527.6 L454.7 522.1 L458.7 520.3 L461.5 513.9 L464.2 512.1 L466.9 507.5 L467.5 499.3 L471.5 498.0 L477.0 496.9 L477.3 449.1 L482.4 444.0 L509.5 444.0 L509.5 513.0 L509.5 513.9 L499.5 514.5 L497.0 514.0 L496.3 499.0 L495.3 498.4 L494.5 499.0 L494.0 512.0 L493.0 500.0 L492.2 500.5 L491.6 514.8 L487.9 516.3 L485.2 513.0 L482.4 508.4 L480.6 514.8 L478.8 521.2 L473.3 523.0 L469.7 525.8 L464.2 528.5 L458.7 530.3 L453.2 532.2 L446.0 533.0 L440.2 534.5 Z" fill="#1f74b4"/>
</svg>
<rect x="440.2" y="444.3" width="234.3" height="93.30000000000001" fill="none" stroke="#8a8a8a" stroke-width="1"/>
<text x="550.80" y="462.90" font-size="9.05" fill="#222" text-anchor="start"  stroke="#222" stroke-width="0.14">Under 600% Elongations</text>
<path d="M534.3 472.3 H549.3" stroke="#1f74b4" stroke-width="1.6"/><path d="M534.3 483.9 H549.3" stroke="#d95f0e" stroke-width="1.6"/>
<text x="551.2" y="475.5" font-size="9.02" fill="#222" stroke="#222" stroke-width="0.14">G<tspan font-size="6" dy="1.8">2</tspan><tspan dy="-1.8">–2D1D Gold Conductor</tspan></text>
<text x="551.2" y="487.1" font-size="9.02" fill="#222" stroke="#222" stroke-width="0.14">G<tspan font-size="6" dy="1.8">2</tspan><tspan dy="-1.8">–2D2D Gold Conductor</tspan></text>
<text transform="translate(413.3 490.04999999999995) rotate(-90)" font-size="10.6" fill="#111" text-anchor="middle" letter-spacing="0.75" stroke="#111" stroke-width="0.14"><tspan font-family="Liberation Serif" font-style="italic" font-size="11.1">ΔR/R</tspan><tspan font-family="Liberation Serif" font-style="italic" font-size="7.6" dy="2">0</tspan><tspan dy="-2"> (–)</tspan></text>
<text x="435.90" y="660.40" font-size="9.1" fill="#222" text-anchor="end"  stroke="#222" stroke-width="0.14">0.00</text>
<text x="435.90" y="613.95" font-size="9.1" fill="#222" text-anchor="end"  stroke="#222" stroke-width="0.14">0.25</text>
<text x="435.90" y="567.50" font-size="9.1" fill="#222" text-anchor="end"  stroke="#222" stroke-width="0.14">0.50</text>
<text x="440.50" y="670.80" font-size="8.6" fill="#222" text-anchor="middle"  stroke="#222" stroke-width="0.14">0</text>
<text x="557.35" y="670.80" font-size="8.6" fill="#222" text-anchor="middle"  stroke="#222" stroke-width="0.14">10k</text>
<text x="674.50" y="670.80" font-size="8.6" fill="#222" text-anchor="middle"  stroke="#222" stroke-width="0.14">20k</text>
<path d="M437.7 657.2 H440.2 M437.7 610.8 H440.2 M437.7 564.3 H440.2 M438.7 634.0 H440.2 M438.7 587.5 H440.2 M440.2 657.8000000000001 V660.3 M557.4 657.8000000000001 V660.3 M674.5 657.8000000000001 V660.3" stroke="#555" stroke-width="0.9" fill="none"/>
<svg x="440.2" y="564.3" width="234.3" height="93.50000000000011" viewBox="440.2 564.3 234.3 93.50000000000011" overflow="hidden">
<path d="M440.2 653.7 L441.5 654.9 L442.8 654.3 L444.1 653.4 L445.4 653.1 L446.7 654.3 L448.0 653.7 L449.3 653.8 L450.6 652.5 L451.9 653.1 L453.2 652.6 L454.4 652.2 L455.6 652.2 L456.9 652.5 L458.1 652.0 L459.3 651.9 L460.5 651.3 L461.7 652.3 L463.0 651.9 L464.2 652.0 L465.4 651.2 L466.6 651.7 L467.8 651.1 L469.1 651.0 L470.3 650.9 L471.5 651.0 L472.7 650.4 L473.9 650.0 L475.1 649.9 L476.4 650.1 L477.6 649.9 L478.8 651.2 L480.0 650.6 L481.2 651.0 L482.4 649.8 L483.7 650.6 L484.9 651.2 L486.1 650.8 L487.3 650.5 L488.5 650.5 L489.8 650.0 L491.0 650.0 L492.2 650.1 L493.4 650.4 L494.6 650.4 L495.8 651.2 L497.1 650.0 L498.3 650.2 L499.5 650.2 L500.7 650.1 L501.9 650.3 L503.1 650.2 L504.4 650.6 L505.6 649.9 L506.8 651.3 L508.0 650.4 L509.2 651.2 L510.4 650.6 L511.6 650.5 L512.9 650.0 L514.1 650.6 L515.3 649.2 L516.5 649.9 L517.7 649.2 L519.0 649.6 L520.2 649.6 L521.4 648.5 L522.6 648.5 L523.8 648.0 L525.0 648.2 L526.2 647.8 L527.5 648.2 L528.7 649.0 L529.9 647.9 L531.1 647.2 L532.3 646.8 L533.5 645.9 L534.8 646.0 L536.0 645.4 L537.2 643.9 L538.4 643.7 L539.6 644.2 L540.9 644.3 L542.1 643.6 L543.3 643.0 L544.5 643.6 L545.7 641.8 L546.9 641.6 L548.2 642.5 L549.4 641.6 L550.6 640.8 L551.8 641.3 L553.0 641.8 L554.2 640.8 L555.5 640.2 L556.7 639.6 L557.9 639.3 L559.1 640.3 L560.3 638.8 L561.5 638.7 L562.7 636.4 L563.9 636.6 L565.1 636.2 L566.4 636.7 L567.6 636.1 L568.8 636.3 L570.0 636.4 L571.2 636.2 L572.5 635.7 L573.7 635.6 L574.9 637.0 L576.1 635.6 L577.3 636.1 L578.5 635.8 L579.8 636.0 L581.0 635.1 L582.2 635.4 L583.4 635.0 L584.6 635.6 L585.9 636.1 L587.1 635.5 L588.3 635.9 L589.5 634.7 L590.7 634.2 L591.9 634.9 L593.2 634.7 L594.4 634.6 L595.6 634.2 L596.8 634.4 L598.0 634.4 L599.2 634.6 L600.5 633.5 L601.7 633.5 L602.9 634.0 L604.1 632.9 L605.3 632.5 L606.5 632.7 L607.8 632.2 L609.0 633.1 L610.2 633.0 L611.4 632.1 L612.6 631.6 L613.9 631.4 L615.1 631.5 L616.3 631.1 L617.5 631.5 L618.7 631.5 L619.9 630.7 L621.1 630.2 L622.4 631.0 L623.6 629.7 L624.8 629.7 L626.0 629.6 L627.2 629.5 L628.4 628.8 L629.6 629.1 L630.8 628.7 L632.1 629.1 L633.3 628.6 L634.5 628.9 L635.7 628.2 L636.9 628.3 L638.1 627.9 L639.4 627.5 L640.6 628.0 L641.8 627.6 L643.0 628.0 L644.2 627.5 L645.5 627.4 L646.7 626.5 L647.9 627.3 L649.1 626.5 L650.3 626.0 L651.6 625.7 L652.8 625.8 L654.0 625.8 L655.2 626.2 L656.4 625.2 L657.6 624.6 L658.9 625.4 L660.1 624.7 L661.3 623.6 L662.5 623.3 L663.7 623.1 L665.0 623.2 L666.2 623.7 L667.4 623.5 L668.6 622.7 L670.1 621.2 L671.5 620.6 L673.0 619.6 L674.5 618.9 L674.5 636.8 L654.0 638.9 L617.5 642.7 L588.3 646.7 L562.7 649.6 L544.5 651.1 L529.9 654.3 L489.7 655.2 L440.2 656.8 Z" fill="#d95f0e"/>
<path d="M440.2 655 L446 654 L447.5 653 L448.3 600 L448.9 595 L449.6 564 L451.2 564 L450.5 600 L449.8 653 L448 656 L440.2 657 Z" fill="#1f74b4"/>
</svg>
<rect x="440.2" y="564.3" width="234.3" height="93.50000000000011" fill="none" stroke="#8a8a8a" stroke-width="1"/>
<text x="550.80" y="582.90" font-size="9.05" fill="#222" text-anchor="start"  stroke="#222" stroke-width="0.14">Under 700% Elongations</text>
<path d="M534.3 592.3 H549.3" stroke="#1f74b4" stroke-width="1.6"/><path d="M534.3 603.9 H549.3" stroke="#d95f0e" stroke-width="1.6"/>
<text x="551.2" y="595.5" font-size="9.02" fill="#222" stroke="#222" stroke-width="0.14">G<tspan font-size="6" dy="1.8">2</tspan><tspan dy="-1.8">–2D1D Gold Conductor</tspan></text>
<text x="551.2" y="607.1" font-size="9.02" fill="#222" stroke="#222" stroke-width="0.14">G<tspan font-size="6" dy="1.8">2</tspan><tspan dy="-1.8">–2D2D Gold Conductor</tspan></text>
<text transform="translate(413.3 610.15) rotate(-90)" font-size="10.6" fill="#111" text-anchor="middle" letter-spacing="0.75" stroke="#111" stroke-width="0.14"><tspan font-family="Liberation Serif" font-style="italic" font-size="11.1">ΔR/R</tspan><tspan font-family="Liberation Serif" font-style="italic" font-size="7.6" dy="2">0</tspan><tspan dy="-2"> (–)</tspan></text>
<text x="557.50" y="688.00" font-size="11.55" fill="#111" text-anchor="middle"  stroke="#111" stroke-width="0.14">Number of Stretching/Relaxation Cycles (–)</text>
<text x="0.60" y="451.00" font-size="13.6" fill="#000" text-anchor="start"  stroke="#000" stroke-width="0.14">g</text>
<rect x="44.4" y="610" width="136.4" height="46" rx="8.5" fill="#e5e5e5" stroke="#333" stroke-width="1.1"/>
<rect x="226.9" y="460.9" width="22.9" height="181.3" rx="3.6" fill="#f6d8d8" stroke="#333" stroke-width="1.15"/>
<path d="M158.2 583.1 L217.6 498.3 L211.3 494.6 L234.3 482.6 L232.1 507.7 L225.8 504.0 L166.4 588.9 Z" fill="url(#arrG)"/>
<path d="M244.11 475.45 L239.00 478.40 L233.89 475.45 L233.89 469.55 L239.00 466.60 L244.11 469.55 Z" fill="#e8b832" stroke="#f26464" stroke-width="2.2"/>
<path d="M239.00 622.60 L241.06 626.77 L245.66 627.44 L242.33 630.68 L243.11 635.26 L239.00 633.10 L234.89 635.26 L235.67 630.68 L232.34 627.44 L236.94 626.77 Z" fill="#f26262" stroke="#f26262" stroke-width="0.8"/>
<circle cx="239.0" cy="630.0" r="1.4" fill="#f0d040"/>
<text x="132.30" y="467.90" font-size="10.25" fill="#c8101c" text-anchor="middle"  stroke="#c8101c" stroke-width="0.14">This Work</text>
<text x="132.50" y="480.70" font-size="10.25" fill="#c8101c" text-anchor="middle"  stroke="#c8101c" stroke-width="0.14">(Robotics/ML-Integrated Approach)</text>
<text x="64.80" y="604.60" font-size="10.15" fill="#111" text-anchor="start"  stroke="#111" stroke-width="0.14">State-of-the-Art Works</text>
<rect x="53.0" y="640.2" width="6.0" height="6.0" fill="none" stroke="#e8d848" stroke-width="1.5"/>
<rect x="49.4" y="621.7" width="6.8" height="6.8" fill="none" stroke="#2878b8" stroke-width="1.5"/>
<rect x="48.6" y="636.7" width="6.8" height="6.8" fill="none" stroke="#333333" stroke-width="1.5"/>
<circle cx="68.9" cy="634.6" r="4.1" fill="none" stroke="#d678b4" stroke-width="1.5"/>
<circle cx="80.9" cy="632.4" r="4.1" fill="none" stroke="#333333" stroke-width="1.6"/>
<rect x="48.2" y="646.2" width="6.6" height="6.6" fill="none" stroke="#5ab4e8" stroke-width="1.5"/>
<circle cx="67.0" cy="643.1" r="4.1" fill="none" stroke="#5ab4e8" stroke-width="1.5"/>
<rect x="63.7" y="643.2" width="6.6" height="6.6" fill="none" stroke="#d678b4" stroke-width="1.5"/>
<rect x="72.7" y="645.3" width="6.6" height="6.6" fill="none" stroke="#e07a2a" stroke-width="1.5"/>
<circle cx="78.7" cy="642.3" r="4.1" fill="none" stroke="#2878b8" stroke-width="1.5"/>
<path d="M70.0 644.9 H80.0 L75.0 653.4 Z" fill="none" stroke="#5ab4e8" stroke-width="1.5" stroke-linejoin="miter"/>
<path d="M59.7 643.4 L64.7 648.4 L59.7 653.4 L54.7 648.4 Z" fill="none" stroke="#2878b8" stroke-width="1.5"/>
<path d="M51.8 644.0 L56.8 649.0 L51.8 654.0 L46.8 649.0 Z" fill="none" stroke="#5ab4e8" stroke-width="1.5"/>
<rect x="50.2" y="646.7" width="6.6" height="6.6" fill="none" stroke="#3aa88a" stroke-width="1.5"/>
<path d="M50.7 644.6 H61.5 L56.1 653.7 Z" fill="none" stroke="#1fa078" stroke-width="1.6" stroke-linejoin="miter"/>
<circle cx="107.9" cy="632.4" r="4.2" fill="none" stroke="#e8d848" stroke-width="1.5"/>
<circle cx="109.8" cy="647.0" r="4.1" fill="none" stroke="#1fa078" stroke-width="1.5"/>
<path d="M101.2 644.7 H111.6 L106.4 653.5 Z" fill="none" stroke="#d678b4" stroke-width="1.5" stroke-linejoin="miter"/>
<circle cx="173.8" cy="631.2" r="4.0" fill="none" stroke="#e07a2a" stroke-width="1.5"/>
<rect x="42.0" y="448.6" width="229.2" height="207.69999999999993" fill="none" stroke="#555" stroke-width="1"/>
<text x="35.00" y="652.90" font-size="10.2" fill="#222" text-anchor="end"  stroke="#222" stroke-width="0.14">0.0</text>
<text x="35.00" y="612.70" font-size="10.2" fill="#222" text-anchor="end"  stroke="#222" stroke-width="0.14">0.5</text>
<text x="35.00" y="572.50" font-size="10.2" fill="#222" text-anchor="end"  stroke="#222" stroke-width="0.14">1.0</text>
<text x="35.00" y="532.30" font-size="10.2" fill="#222" text-anchor="end"  stroke="#222" stroke-width="0.14">1.5</text>
<text x="35.00" y="492.10" font-size="10.2" fill="#222" text-anchor="end"  stroke="#222" stroke-width="0.14">2.0</text>
<text x="35.00" y="451.90" font-size="10.2" fill="#222" text-anchor="end"  stroke="#222" stroke-width="0.14">2.5</text>
<text x="48.20" y="671.60" font-size="10.0" fill="#222" text-anchor="middle"  stroke="#222" stroke-width="0.14">0</text>
<text x="84.87" y="671.60" font-size="10.0" fill="#222" text-anchor="middle"  stroke="#222" stroke-width="0.14">200</text>
<text x="121.53" y="671.60" font-size="10.0" fill="#222" text-anchor="middle"  stroke="#222" stroke-width="0.14">400</text>
<text x="158.20" y="671.60" font-size="10.0" fill="#222" text-anchor="middle"  stroke="#222" stroke-width="0.14">600</text>
<text x="194.86" y="671.60" font-size="10.0" fill="#222" text-anchor="middle"  stroke="#222" stroke-width="0.14">800</text>
<text x="231.53" y="671.60" font-size="10.0" fill="#222" text-anchor="middle"  stroke="#222" stroke-width="0.14">1000</text>
<text x="268.20" y="671.60" font-size="10.0" fill="#222" text-anchor="middle"  stroke="#222" stroke-width="0.14">1200</text>
<path d="M39.2 649.3 H42.0 M39.2 609.1 H42.0 M39.2 568.9 H42.0 M39.2 528.7 H42.0 M39.2 488.5 H42.0 M39.2 448.3 H42.0 M40.4 629.2 H42.0 M40.4 589.0 H42.0 M40.4 548.8 H42.0 M40.4 508.6 H42.0 M40.4 468.4 H42.0 M51.0 656.3 V659.1 M87.7 656.3 V659.1 M124.3 656.3 V659.1 M161.0 656.3 V659.1 M197.7 656.3 V659.1 M234.3 656.3 V659.1 M271.0 656.3 V659.1 M69.3 656.3 V657.9 M106.0 656.3 V657.9 M142.7 656.3 V657.9 M179.3 656.3 V657.9 M216.0 656.3 V657.9 M252.7 656.3 V657.9" stroke="#555" stroke-width="0.9" fill="none"/>
<text x="42" y="445.7" font-size="10.6" fill="#111" stroke="#111" stroke-width="0.14">× 10<tspan font-size="7" dy="-4">7</tspan></text>
<text transform="translate(12.8 551.7) rotate(-90)" font-size="11.6" fill="#111" text-anchor="middle" stroke="#111" stroke-width="0.14">Electrical Conductivity (S m<tspan font-size="7.5" dy="-4">−1</tspan><tspan dy="4">)</tspan></text>
<text x="161.80" y="688.40" font-size="11.5" fill="#111" text-anchor="middle"  stroke="#111" stroke-width="0.14">Resistance-Insensitive Stretchability (%)</text>
<text x="285.30" y="459.00" font-size="7.7" fill="#222" text-anchor="start"  stroke="#222" stroke-width="0.14">Gold Conductor</text>
<path d="M287.40 464.00 L288.50 466.39 L291.11 466.69 L289.18 468.48 L289.69 471.06 L287.40 469.77 L285.11 471.06 L285.62 468.48 L283.69 466.69 L286.30 466.39 Z" fill="#f26a5a" stroke="none" stroke-width="0"/>
<text x="294.50" y="470.90" font-size="7.7" fill="#222" text-anchor="start"  stroke="#222" stroke-width="0.14">Considering Interlayer</text>
<path d="M290.17 481.50 L287.40 483.10 L284.63 481.50 L284.63 478.30 L287.40 476.70 L290.17 478.30 Z" fill="#f0c030" stroke="#f07060" stroke-width="1.1"/>
<text x="295.50" y="482.80" font-size="7.7" fill="#222" text-anchor="start"  stroke="#222" stroke-width="0.14">Not Considering Interlayer</text>
<text x="302.00" y="497.20" font-size="7.7" fill="#222" text-anchor="middle"  stroke="#222" stroke-width="0.14">w/ Liquid</text>
<text x="302.00" y="506.00" font-size="7.7" fill="#222" text-anchor="middle"  stroke="#222" stroke-width="0.14">Metal</text>
<text x="366.00" y="497.20" font-size="7.7" fill="#222" text-anchor="middle"  stroke="#222" stroke-width="0.14">w/ Metal</text>
<text x="366.00" y="506.00" font-size="7.7" fill="#222" text-anchor="middle"  stroke="#222" stroke-width="0.14">Nanofillers</text>
<circle cx="287.4" cy="513.6" r="3.2" fill="none" stroke="#e8d848" stroke-width="1.05"/>
<text x="305.60" y="516.40" font-size="7.7" fill="#222" text-anchor="middle"  stroke="#222" stroke-width="0.14">[27]</text>
<circle cx="287.4" cy="524.4" r="3.2" fill="none" stroke="#333333" stroke-width="1.05"/>
<text x="305.60" y="527.20" font-size="7.7" fill="#222" text-anchor="middle"  stroke="#222" stroke-width="0.14">[28]</text>
<circle cx="287.4" cy="535.1" r="3.2" fill="none" stroke="#d678b4" stroke-width="1.05"/>
<text x="305.60" y="537.90" font-size="7.7" fill="#222" text-anchor="middle"  stroke="#222" stroke-width="0.14">[29]</text>
<circle cx="287.4" cy="545.9" r="3.2" fill="none" stroke="#5ab4e8" stroke-width="1.05"/>
<text x="305.60" y="548.70" font-size="7.7" fill="#222" text-anchor="middle"  stroke="#222" stroke-width="0.14">[41]</text>
<circle cx="287.4" cy="556.7" r="3.2" fill="none" stroke="#1fa078" stroke-width="1.05"/>
<text x="305.60" y="559.50" font-size="7.7" fill="#222" text-anchor="middle"  stroke="#222" stroke-width="0.14">[67]</text>
<circle cx="287.4" cy="567.5" r="3.2" fill="none" stroke="#e07a2a" stroke-width="1.05"/>
<text x="305.60" y="570.30" font-size="7.7" fill="#222" text-anchor="middle"  stroke="#222" stroke-width="0.14">[68]</text>
<circle cx="287.4" cy="578.3" r="3.2" fill="none" stroke="#2878b8" stroke-width="1.05"/>
<text x="305.60" y="581.10" font-size="7.7" fill="#222" text-anchor="middle"  stroke="#222" stroke-width="0.14">[69]</text>
<rect x="349.8" y="510.6" width="6.0" height="6.0" fill="none" stroke="#3aa88a" stroke-width="1.05"/>
<text x="371.20" y="516.40" font-size="7.7" fill="#222" text-anchor="middle"  stroke="#222" stroke-width="0.14">[30]</text>
<rect x="349.8" y="521.4" width="6.0" height="6.0" fill="none" stroke="#e8d848" stroke-width="1.05"/>
<text x="371.20" y="527.20" font-size="7.7" fill="#222" text-anchor="middle"  stroke="#222" stroke-width="0.14">[31]</text>
<rect x="349.8" y="532.1" width="6.0" height="6.0" fill="none" stroke="#2878b8" stroke-width="1.05"/>
<text x="371.20" y="537.90" font-size="7.7" fill="#222" text-anchor="middle"  stroke="#222" stroke-width="0.14">[32]</text>
<rect x="349.8" y="542.9" width="6.0" height="6.0" fill="none" stroke="#333333" stroke-width="1.05"/>
<text x="371.20" y="548.70" font-size="7.7" fill="#222" text-anchor="middle"  stroke="#222" stroke-width="0.14">[42]</text>
<rect x="349.8" y="553.7" width="6.0" height="6.0" fill="none" stroke="#5ab4e8" stroke-width="1.05"/>
<text x="371.20" y="559.50" font-size="7.7" fill="#222" text-anchor="middle"  stroke="#222" stroke-width="0.14">[70]</text>
<rect x="349.8" y="564.5" width="6.0" height="6.0" fill="none" stroke="#e07a2a" stroke-width="1.05"/>
<text x="371.20" y="570.30" font-size="7.7" fill="#222" text-anchor="middle"  stroke="#222" stroke-width="0.14">[71]</text>
<rect x="349.8" y="575.3" width="6.0" height="6.0" fill="none" stroke="#d678b4" stroke-width="1.05"/>
<text x="371.20" y="581.10" font-size="7.7" fill="#222" text-anchor="middle"  stroke="#222" stroke-width="0.14">[72]</text>
<text x="302.70" y="596.30" font-size="7.7" fill="#222" text-anchor="middle"  stroke="#222" stroke-width="0.14">w/</text>
<text x="302.70" y="604.50" font-size="7.7" fill="#222" text-anchor="middle"  stroke="#222" stroke-width="0.14">Conductive</text>
<text x="302.70" y="613.90" font-size="7.7" fill="#222" text-anchor="middle"  stroke="#222" stroke-width="0.14">Polymers</text>
<text x="366.00" y="596.30" font-size="7.7" fill="#222" text-anchor="middle"  stroke="#222" stroke-width="0.14">w/</text>
<text x="366.00" y="604.50" font-size="7.7" fill="#222" text-anchor="middle"  stroke="#222" stroke-width="0.14">Carbon</text>
<text x="366.00" y="613.90" font-size="7.7" fill="#222" text-anchor="middle"  stroke="#222" stroke-width="0.14">Nanomaterials</text>
<path d="M287.4 618.8 L291.8 623.2 L287.4 627.6 L283.0 623.2 Z" fill="none" stroke="#2878b8" stroke-width="1.05"/>
<text x="304.00" y="626.00" font-size="7.7" fill="#222" text-anchor="middle"  stroke="#222" stroke-width="0.14">[73]</text>
<path d="M287.4 629.0 L291.8 633.4 L287.4 637.8 L283.0 633.4 Z" fill="none" stroke="#5ab4e8" stroke-width="1.05"/>
<text x="304.00" y="636.20" font-size="7.7" fill="#222" text-anchor="middle"  stroke="#222" stroke-width="0.14">[74]</text>
<path d="M287.4 639.4 L291.8 643.8 L287.4 648.2 L283.0 643.8 Z" fill="none" stroke="#1fa078" stroke-width="1.05"/>
<text x="304.00" y="646.60" font-size="7.7" fill="#222" text-anchor="middle"  stroke="#222" stroke-width="0.14">[75]</text>
<path d="M349.2 620.5 H356.4 L352.8 626.6 Z" fill="none" stroke="#d678b4" stroke-width="1.05" stroke-linejoin="miter"/>
<text x="371.20" y="626.00" font-size="7.7" fill="#222" text-anchor="middle"  stroke="#222" stroke-width="0.14">[76]</text>
<path d="M349.2 630.7 H356.4 L352.8 636.8 Z" fill="none" stroke="#5ab4e8" stroke-width="1.05" stroke-linejoin="miter"/>
<text x="371.20" y="636.20" font-size="7.7" fill="#222" text-anchor="middle"  stroke="#222" stroke-width="0.14">[77]</text>
<path d="M349.2 641.1 H356.4 L352.8 647.2 Z" fill="none" stroke="#1fa078" stroke-width="1.05" stroke-linejoin="miter"/>
<text x="371.20" y="646.60" font-size="7.7" fill="#222" text-anchor="middle"  stroke="#222" stroke-width="0.14">[78]</text>
<path d="M349.2 651.3 H356.4 L352.8 657.4 Z" fill="none" stroke="#2878b8" stroke-width="1.05" stroke-linejoin="miter"/>
<text x="371.20" y="656.80" font-size="7.7" fill="#222" text-anchor="middle"  stroke="#222" stroke-width="0.14">[79]</text>
<defs><filter id="bl06" x="-20%" y="-5%" width="140%" height="110%"><feGaussianBlur stdDeviation="0.6"/></filter>
<filter id="bl10" x="-20%" y="-5%" width="140%" height="110%"><feGaussianBlur stdDeviation="1.0"/></filter>
<filter id="bl18" x="-30%" y="-10%" width="160%" height="120%"><feGaussianBlur stdDeviation="1.8"/></filter>
<filter id="bl30" x="-30%" y="-10%" width="160%" height="120%"><feGaussianBlur stdDeviation="3"/></filter>
<filter id="tA1" x="0" y="0" width="1" height="1" filterUnits="objectBoundingBox" color-interpolation-filters="sRGB">
<feTurbulence type="fractalNoise" baseFrequency="0.05 0.02" numOctaves="3" seed="3" result="h1"/>
<feTurbulence type="fractalNoise" baseFrequency="0.5 0.44" numOctaves="4" seed="8" result="h2"/>
<feComposite in="h1" in2="h2" operator="arithmetic" k1="0" k2="0.4" k3="0.600" k4="0" result="h"/>
<feDiffuseLighting in="h" surfaceScale="3.0" diffuseConstant="1" lighting-color="#fff" result="L"><feDistantLight azimuth="200" elevation="45"/></feDiffuseLighting>
<feColorMatrix in="L" type="matrix" values="0.3500 0.3500 0.3500 0 -0.06  0.3500 0.3500 0.3500 0 -0.06  0.3500 0.3500 0.3500 0 -0.06  0 0 0 0 1" result="Lg"/>
<feColorMatrix in="h1" type="matrix" values="0 0 0 2.0 -0.3  0 0 0 2.0 -0.3  0 0 0 2.0 -0.3  0 0 0 0 1" result="D"/>
<feComposite in="Lg" in2="D" operator="arithmetic" k1="0.45" k2="0.550" k3="0" k4="0"/>
<feComponentTransfer><feFuncR type="linear" slope="1.6" intercept="-0.300"/><feFuncG type="linear" slope="1.6" intercept="-0.300"/><feFuncB type="linear" slope="1.6" intercept="-0.300"/></feComponentTransfer><feGaussianBlur stdDeviation="0.3"/>
</filter>
<filter id="tA2" x="0" y="0" width="1" height="1" filterUnits="objectBoundingBox" color-interpolation-filters="sRGB">
<feTurbulence type="fractalNoise" baseFrequency="0.04 0.04" numOctaves="3" seed="9" result="h1"/>
<feTurbulence type="fractalNoise" baseFrequency="0.16 0.14" numOctaves="4" seed="14" result="h2"/>
<feComposite in="h1" in2="h2" operator="arithmetic" k1="0" k2="0.45" k3="0.550" k4="0" result="h"/>
<feDiffuseLighting in="h" surfaceScale="5" diffuseConstant="1" lighting-color="#fff" result="L"><feDistantLight azimuth="225" elevation="40"/></feDiffuseLighting>
<feColorMatrix in="L" type="matrix" values="0.3333 0.3333 0.3333 0 0.02  0.3333 0.3333 0.3333 0 0.02  0.3333 0.3333 0.3333 0 0.02  0 0 0 0 1" result="Lg"/>
<feColorMatrix in="h1" type="matrix" values="0 0 0 2.5 -0.6  0 0 0 2.5 -0.6  0 0 0 2.5 -0.6  0 0 0 0 1" result="D"/>
<feComposite in="Lg" in2="D" operator="arithmetic" k1="0.35" k2="0.650" k3="0" k4="0"/>
<feComponentTransfer><feFuncR type="linear" slope="1.35" intercept="-0.175"/><feFuncG type="linear" slope="1.35" intercept="-0.175"/><feFuncB type="linear" slope="1.35" intercept="-0.175"/></feComponentTransfer><feGaussianBlur stdDeviation="0.35"/>
</filter>
<filter id="tE1" x="0" y="0" width="1" height="1" filterUnits="objectBoundingBox" color-interpolation-filters="sRGB">
<feTurbulence type="fractalNoise" baseFrequency="0.05 0.02" numOctaves="3" seed="21" result="h1"/>
<feTurbulence type="fractalNoise" baseFrequency="0.5 0.44" numOctaves="4" seed="26" result="h2"/>
<feComposite in="h1" in2="h2" operator="arithmetic" k1="0" k2="0.4" k3="0.600" k4="0" result="h"/>
<feDiffuseLighting in="h" surfaceScale="3.0" diffuseConstant="1" lighting-color="#fff" result="L"><feDistantLight azimuth="200" elevation="45"/></feDiffuseLighting>
<feColorMatrix in="L" type="matrix" values="0.3500 0.3500 0.3500 0 -0.05  0.3500 0.3500 0.3500 0 -0.05  0.3500 0.3500 0.3500 0 -0.05  0 0 0 0 1" result="Lg"/>
<feColorMatrix in="h1" type="matrix" values="0 0 0 2.0 -0.3  0 0 0 2.0 -0.3  0 0 0 2.0 -0.3  0 0 0 0 1" result="D"/>
<feComposite in="Lg" in2="D" operator="arithmetic" k1="0.45" k2="0.550" k3="0" k4="0"/>
<feComponentTransfer><feFuncR type="linear" slope="1.5" intercept="-0.250"/><feFuncG type="linear" slope="1.5" intercept="-0.250"/><feFuncB type="linear" slope="1.5" intercept="-0.250"/></feComponentTransfer><feGaussianBlur stdDeviation="0.3"/>
</filter>
<filter id="tE2" x="0" y="0" width="1" height="1" filterUnits="objectBoundingBox" color-interpolation-filters="sRGB">
<feTurbulence type="fractalNoise" baseFrequency="0.05 0.02" numOctaves="3" seed="31" result="h1"/>
<feTurbulence type="fractalNoise" baseFrequency="0.45 0.4" numOctaves="4" seed="36" result="h2"/>
<feComposite in="h1" in2="h2" operator="arithmetic" k1="0" k2="0.45" k3="0.550" k4="0" result="h"/>
<feDiffuseLighting in="h" surfaceScale="2.6" diffuseConstant="1" lighting-color="#fff" result="L"><feDistantLight azimuth="200" elevation="45"/></feDiffuseLighting>
<feColorMatrix in="L" type="matrix" values="0.3167 0.3167 0.3167 0 -0.05  0.3167 0.3167 0.3167 0 -0.05  0.3167 0.3167 0.3167 0 -0.05  0 0 0 0 1" result="Lg"/>
<feColorMatrix in="h1" type="matrix" values="0 0 0 2.0 -0.3  0 0 0 2.0 -0.3  0 0 0 2.0 -0.3  0 0 0 0 1" result="D"/>
<feComposite in="Lg" in2="D" operator="arithmetic" k1="0.4" k2="0.600" k3="0" k4="0"/>
<feComponentTransfer><feFuncR type="linear" slope="1.25" intercept="-0.125"/><feFuncG type="linear" slope="1.25" intercept="-0.125"/><feFuncB type="linear" slope="1.25" intercept="-0.125"/></feComponentTransfer><feGaussianBlur stdDeviation="0.3"/>
</filter>
<filter id="tE3" x="0" y="0" width="1" height="1" filterUnits="objectBoundingBox" color-interpolation-filters="sRGB">
<feTurbulence type="fractalNoise" baseFrequency="0.03 0.03" numOctaves="3" seed="41" result="h1"/>
<feTurbulence type="fractalNoise" baseFrequency="0.3 0.28" numOctaves="4" seed="46" result="h2"/>
<feComposite in="h1" in2="h2" operator="arithmetic" k1="0" k2="0.35" k3="0.650" k4="0" result="h"/>
<feDiffuseLighting in="h" surfaceScale="2.2" diffuseConstant="1" lighting-color="#fff" result="L"><feDistantLight azimuth="220" elevation="55"/></feDiffuseLighting>
<feColorMatrix in="L" type="matrix" values="0.3000 0.3000 0.3000 0 -0.1  0.3000 0.3000 0.3000 0 -0.1  0.3000 0.3000 0.3000 0 -0.1  0 0 0 0 1" result="Lg"/>
<feColorMatrix in="h1" type="matrix" values="0 0 0 1.0 0.0  0 0 0 1.0 0.0  0 0 0 1.0 0.0  0 0 0 0 1" result="D"/>
<feComposite in="Lg" in2="D" operator="arithmetic" k1="0.0" k2="1.000" k3="0" k4="0"/>
<feComponentTransfer><feFuncR type="linear" slope="0.95" intercept="0.025"/><feFuncG type="linear" slope="0.95" intercept="0.025"/><feFuncB type="linear" slope="0.95" intercept="0.025"/></feComponentTransfer><feGaussianBlur stdDeviation="0.35"/>
</filter>
<filter id="tE4" x="0" y="0" width="1" height="1" filterUnits="objectBoundingBox" color-interpolation-filters="sRGB">
<feTurbulence type="fractalNoise" baseFrequency="0.04 0.035" numOctaves="3" seed="51" result="h1"/>
<feTurbulence type="fractalNoise" baseFrequency="0.26 0.22" numOctaves="4" seed="56" result="h2"/>
<feComposite in="h1" in2="h2" operator="arithmetic" k1="0" k2="0.45" k3="0.550" k4="0" result="h"/>
<feDiffuseLighting in="h" surfaceScale="3.5" diffuseConstant="1" lighting-color="#fff" result="L"><feDistantLight azimuth="220" elevation="45"/></feDiffuseLighting>
<feColorMatrix in="L" type="matrix" values="0.3167 0.3167 0.3167 0 -0.04  0.3167 0.3167 0.3167 0 -0.04  0.3167 0.3167 0.3167 0 -0.04  0 0 0 0 1" result="Lg"/>
<feColorMatrix in="h1" type="matrix" values="0 0 0 2.0 -0.3  0 0 0 2.0 -0.3  0 0 0 2.0 -0.3  0 0 0 0 1" result="D"/>
<feComposite in="Lg" in2="D" operator="arithmetic" k1="0.35" k2="0.650" k3="0" k4="0"/>
<feComponentTransfer><feFuncR type="linear" slope="1.4" intercept="-0.200"/><feFuncG type="linear" slope="1.4" intercept="-0.200"/><feFuncB type="linear" slope="1.4" intercept="-0.200"/></feComponentTransfer><feGaussianBlur stdDeviation="0.3"/>
</filter></defs>
</svg></body></html>
